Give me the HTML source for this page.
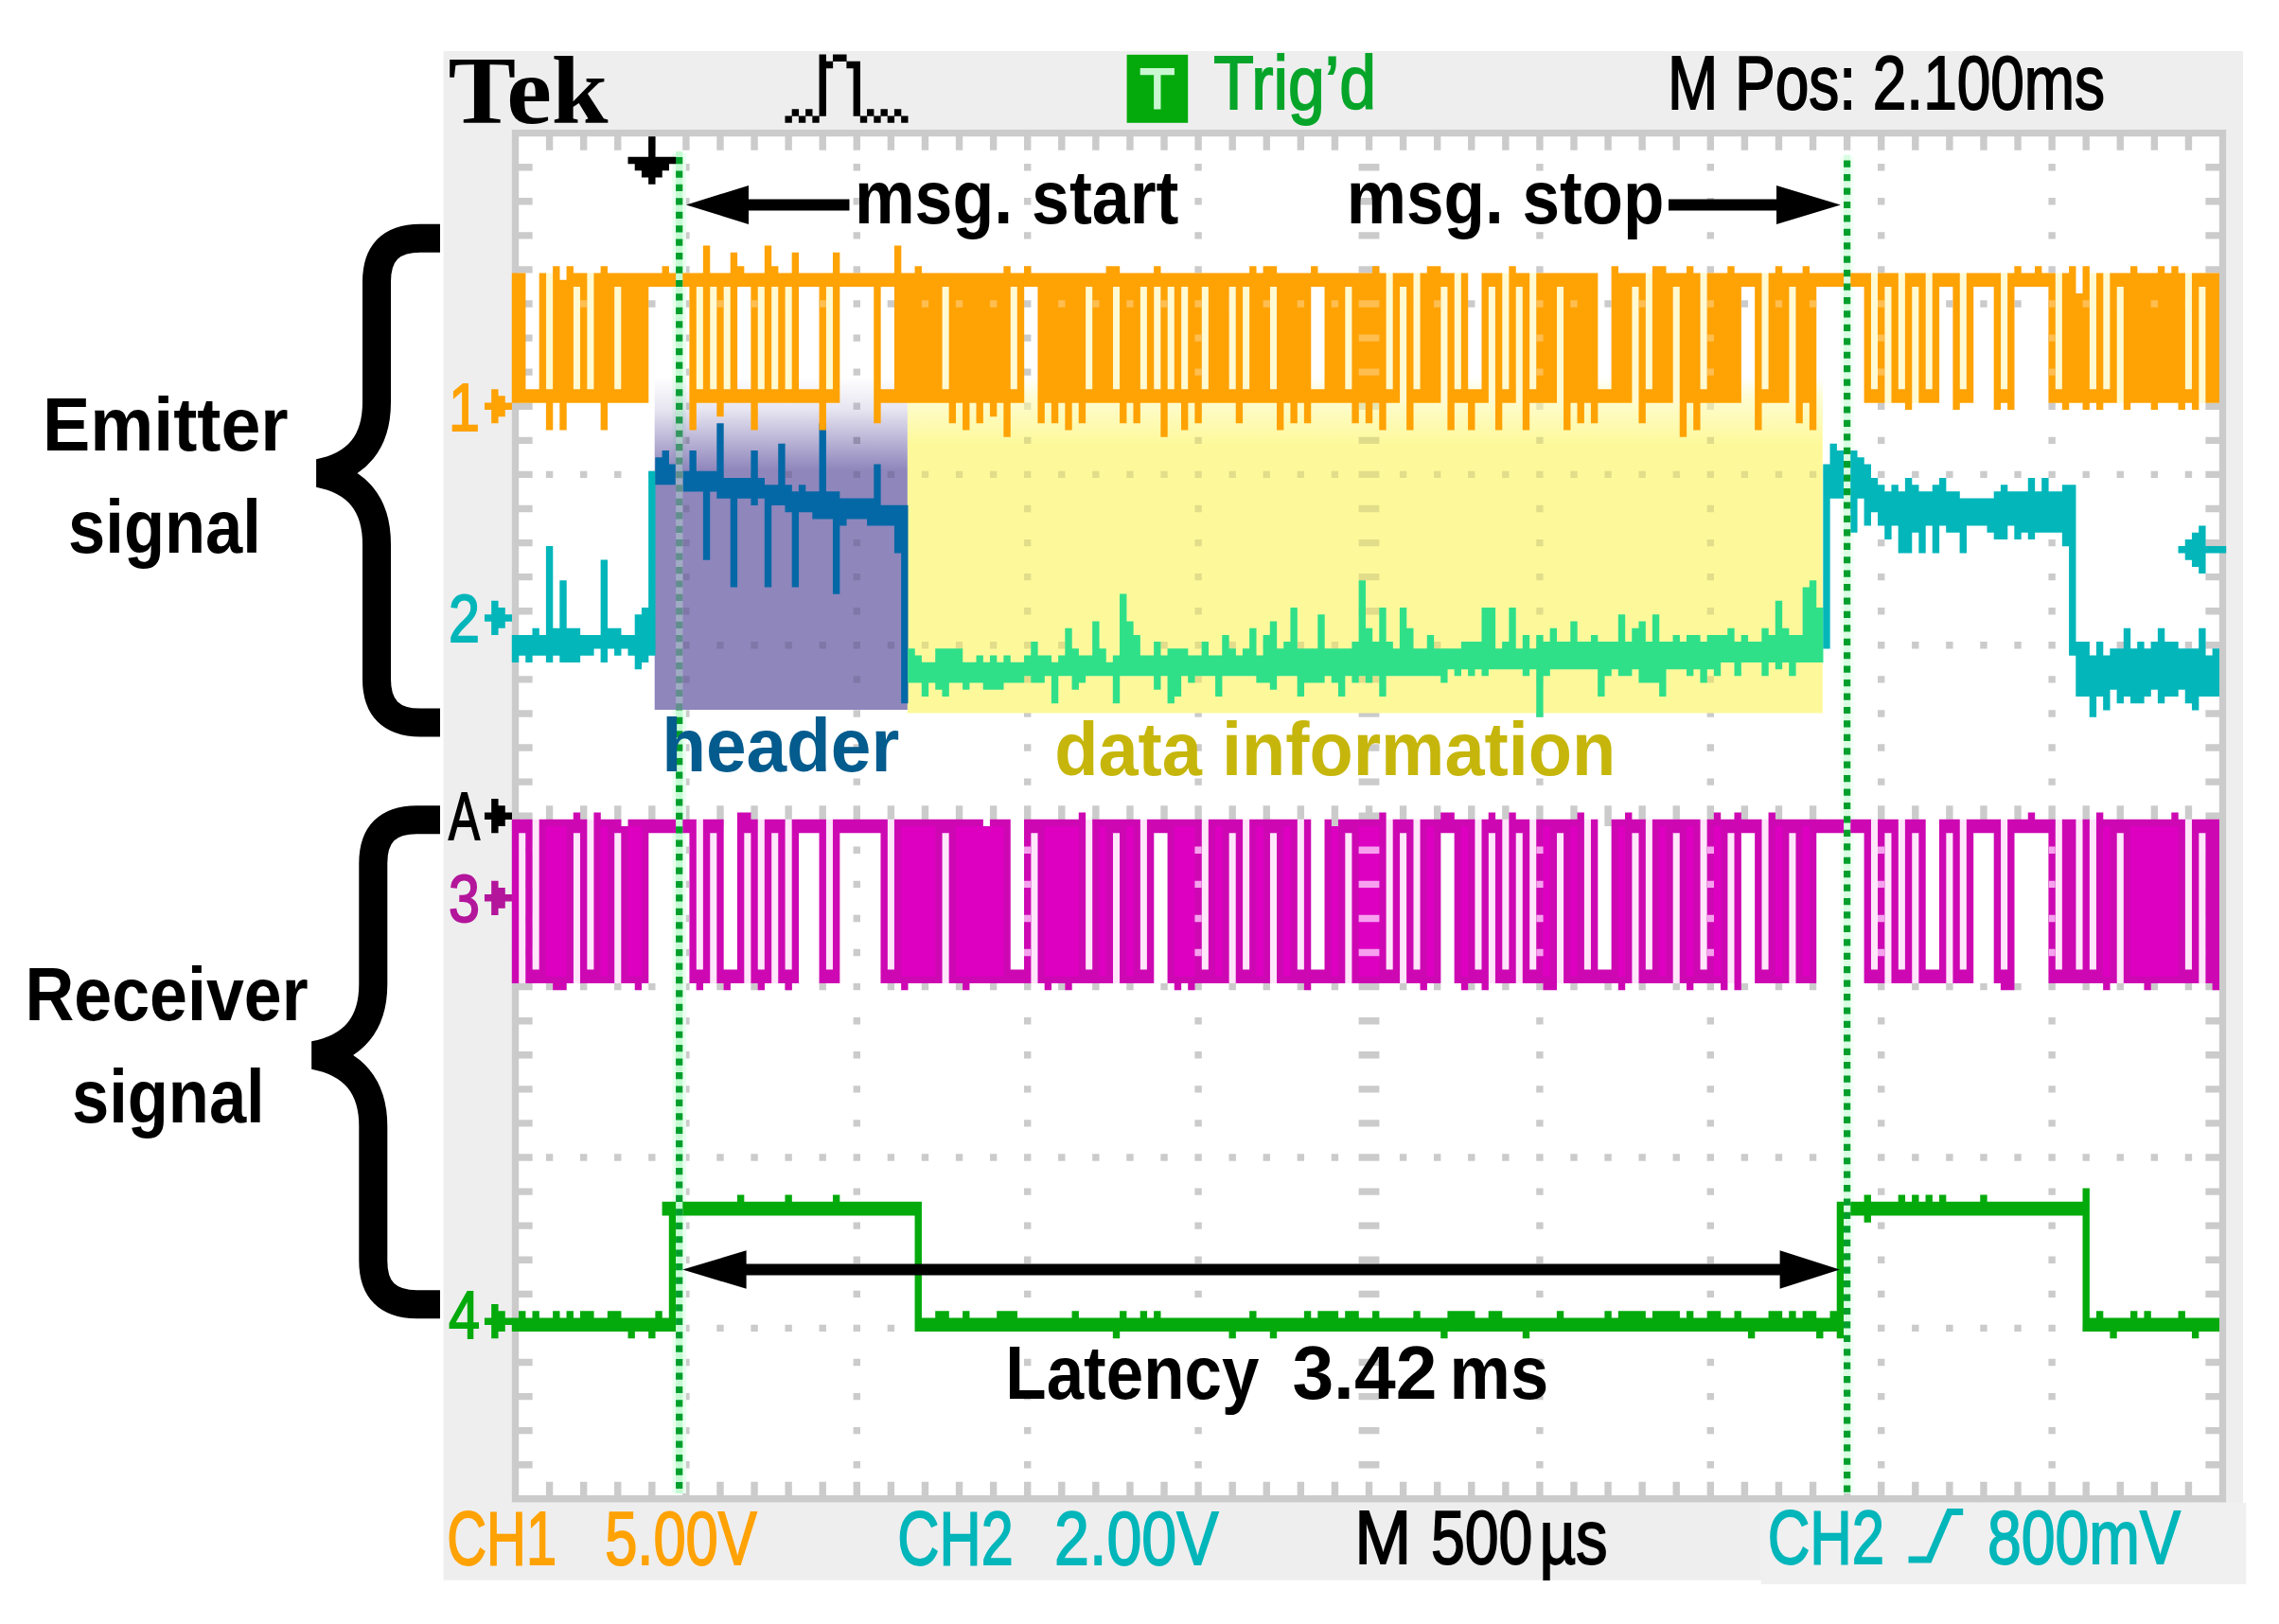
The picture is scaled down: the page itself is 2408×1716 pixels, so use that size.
<!DOCTYPE html>
<html lang="en">
<head>
<meta charset="utf-8">
<title>Oscilloscope capture: emitter and receiver signals</title>
<style>
html,body{margin:0;padding:0;background:#fff;}
body{width:2408px;height:1716px;overflow:hidden;}
svg{display:block;}
</style>
</head>
<body>
<svg width="2408" height="1716" viewBox="0 0 2408 1716">
<defs>
<linearGradient id="gp" x1="0" y1="0" x2="0" y2="1">
<stop offset="0" stop-color="#8f86bc" stop-opacity="0"/>
<stop offset="0.10" stop-color="#8f86bc" stop-opacity="0.22"/>
<stop offset="0.28" stop-color="#8f86bc" stop-opacity="1"/>
<stop offset="1" stop-color="#8f86bc" stop-opacity="1"/>
</linearGradient>
<linearGradient id="gy" x1="0" y1="0" x2="0" y2="1">
<stop offset="0" stop-color="#fdf99b" stop-opacity="0"/>
<stop offset="0.06" stop-color="#fdf99b" stop-opacity="0.45"/>
<stop offset="0.20" stop-color="#fdf99b" stop-opacity="1"/>
<stop offset="1" stop-color="#fdf99b" stop-opacity="1"/>
</linearGradient>
</defs>
<rect width="2408" height="1716" fill="#fff"/>
<rect x="468.6" y="53.9" width="1901.4" height="1615.8" fill="#eeeeee"/>
<rect x="1860.7" y="1588" width="512.5" height="86" fill="#f0f0f0"/>
<rect x="540.9" y="137" width="1811.22" height="1450.42" fill="#fff"/>
<defs><path id="grat" d="M540.82 136.92h7.38v1450.58h-7.38zM548.04 136.92h7.38v7.38h-7.38zM548.04 173h7.38v7.38h-7.38zM548.04 209.08h7.38v7.38h-7.38zM548.04 245.16h7.38v7.38h-7.38zM548.04 281.24h7.38v7.38h-7.38zM548.04 317.32h7.38v7.38h-7.38zM548.04 353.4h7.38v7.38h-7.38zM548.04 389.48h7.38v7.38h-7.38zM548.04 425.56h7.38v7.38h-7.38zM548.04 461.64h7.38v7.38h-7.38zM548.04 497.72h7.38v7.38h-7.38zM548.04 533.8h7.38v7.38h-7.38zM548.04 569.88h7.38v7.38h-7.38zM548.04 605.96h7.38v7.38h-7.38zM548.04 642.04h7.38v7.38h-7.38zM548.04 678.12h7.38v7.38h-7.38zM548.04 714.2h7.38v7.38h-7.38zM548.04 750.28h7.38v7.38h-7.38zM548.04 786.36h7.38v7.38h-7.38zM548.04 822.44h7.38v7.38h-7.38zM548.04 858.52h7.38v7.38h-7.38zM548.04 894.6h7.38v7.38h-7.38zM548.04 930.68h7.38v7.38h-7.38zM548.04 966.76h7.38v7.38h-7.38zM548.04 1002.84h7.38v7.38h-7.38zM548.04 1038.92h7.38v7.38h-7.38zM548.04 1075h7.38v7.38h-7.38zM548.04 1111.08h7.38v7.38h-7.38zM548.04 1147.16h7.38v7.38h-7.38zM548.04 1183.24h7.38v7.38h-7.38zM548.04 1219.32h7.38v7.38h-7.38zM548.04 1255.4h7.38v7.38h-7.38zM548.04 1291.48h7.38v7.38h-7.38zM548.04 1327.56h7.38v7.38h-7.38zM548.04 1363.64h7.38v7.38h-7.38zM548.04 1399.72h7.38v7.38h-7.38zM548.04 1435.8h7.38v7.38h-7.38zM548.04 1471.88h7.38v7.38h-7.38zM548.04 1507.96h7.38v7.38h-7.38zM548.04 1544.04h7.38v7.38h-7.38zM548.04 1580.12h7.38v7.38h-7.38zM555.25 136.92h7.38v7.38h-7.38zM555.25 173h7.38v7.38h-7.38zM555.25 209.08h7.38v7.38h-7.38zM555.25 245.16h7.38v7.38h-7.38zM555.25 281.24h7.38v7.38h-7.38zM555.25 317.32h7.38v7.38h-7.38zM555.25 353.4h7.38v7.38h-7.38zM555.25 389.48h7.38v7.38h-7.38zM555.25 425.56h7.38v7.38h-7.38zM555.25 461.64h7.38v7.38h-7.38zM555.25 497.72h7.38v7.38h-7.38zM555.25 533.8h7.38v7.38h-7.38zM555.25 569.88h7.38v7.38h-7.38zM555.25 605.96h7.38v7.38h-7.38zM555.25 642.04h7.38v7.38h-7.38zM555.25 678.12h7.38v7.38h-7.38zM555.25 714.2h7.38v7.38h-7.38zM555.25 750.28h7.38v7.38h-7.38zM555.25 786.36h7.38v7.38h-7.38zM555.25 822.44h7.38v7.38h-7.38zM555.25 858.52h7.38v7.38h-7.38zM555.25 894.6h7.38v7.38h-7.38zM555.25 930.68h7.38v7.38h-7.38zM555.25 966.76h7.38v7.38h-7.38zM555.25 1002.84h7.38v7.38h-7.38zM555.25 1038.92h7.38v7.38h-7.38zM555.25 1075h7.38v7.38h-7.38zM555.25 1111.08h7.38v7.38h-7.38zM555.25 1147.16h7.38v7.38h-7.38zM555.25 1183.24h7.38v7.38h-7.38zM555.25 1219.32h7.38v7.38h-7.38zM555.25 1255.4h7.38v7.38h-7.38zM555.25 1291.48h7.38v7.38h-7.38zM555.25 1327.56h7.38v7.38h-7.38zM555.25 1363.64h7.38v7.38h-7.38zM555.25 1399.72h7.38v7.38h-7.38zM555.25 1435.8h7.38v7.38h-7.38zM555.25 1471.88h7.38v7.38h-7.38zM555.25 1507.96h7.38v7.38h-7.38zM555.25 1544.04h7.38v7.38h-7.38zM555.25 1580.12h7.38v7.38h-7.38zM562.47 136.92h7.38v7.38h-7.38zM562.47 1580.12h7.38v7.38h-7.38zM569.68 136.92h7.38v7.38h-7.38zM569.68 1580.12h7.38v7.38h-7.38zM576.9 136.92h7.38v21.81h-7.38zM576.9 317.32h7.38v7.38h-7.38zM576.9 497.72h7.38v7.38h-7.38zM576.9 678.12h7.38v7.38h-7.38zM576.9 851.3h7.38v21.81h-7.38zM576.9 1038.92h7.38v7.38h-7.38zM576.9 1219.32h7.38v7.38h-7.38zM576.9 1399.72h7.38v7.38h-7.38zM576.9 1565.69h7.38v21.81h-7.38zM584.12 136.92h7.38v7.38h-7.38zM584.12 1580.12h7.38v7.38h-7.38zM591.33 136.92h7.38v7.38h-7.38zM591.33 1580.12h7.38v7.38h-7.38zM598.55 136.92h7.38v7.38h-7.38zM598.55 1580.12h7.38v7.38h-7.38zM605.76 136.92h7.38v7.38h-7.38zM605.76 1580.12h7.38v7.38h-7.38zM612.98 136.92h7.38v21.81h-7.38zM612.98 317.32h7.38v7.38h-7.38zM612.98 497.72h7.38v7.38h-7.38zM612.98 678.12h7.38v7.38h-7.38zM612.98 851.3h7.38v21.81h-7.38zM612.98 1038.92h7.38v7.38h-7.38zM612.98 1219.32h7.38v7.38h-7.38zM612.98 1399.72h7.38v7.38h-7.38zM612.98 1565.69h7.38v21.81h-7.38zM620.2 136.92h7.38v7.38h-7.38zM620.2 1580.12h7.38v7.38h-7.38zM627.41 136.92h7.38v7.38h-7.38zM627.41 1580.12h7.38v7.38h-7.38zM634.63 136.92h7.38v7.38h-7.38zM634.63 1580.12h7.38v7.38h-7.38zM641.84 136.92h7.38v7.38h-7.38zM641.84 1580.12h7.38v7.38h-7.38zM649.06 136.92h7.38v21.81h-7.38zM649.06 317.32h7.38v7.38h-7.38zM649.06 497.72h7.38v7.38h-7.38zM649.06 678.12h7.38v7.38h-7.38zM649.06 851.3h7.38v21.81h-7.38zM649.06 1038.92h7.38v7.38h-7.38zM649.06 1219.32h7.38v7.38h-7.38zM649.06 1399.72h7.38v7.38h-7.38zM649.06 1565.69h7.38v21.81h-7.38zM656.28 136.92h7.38v7.38h-7.38zM656.28 1580.12h7.38v7.38h-7.38zM663.49 136.92h7.38v7.38h-7.38zM663.49 1580.12h7.38v7.38h-7.38zM670.71 136.92h7.38v7.38h-7.38zM670.71 1580.12h7.38v7.38h-7.38zM677.92 136.92h7.38v7.38h-7.38zM677.92 1580.12h7.38v7.38h-7.38zM685.14 136.92h7.38v21.81h-7.38zM685.14 317.32h7.38v7.38h-7.38zM685.14 497.72h7.38v7.38h-7.38zM685.14 678.12h7.38v7.38h-7.38zM685.14 851.3h7.38v21.81h-7.38zM685.14 1038.92h7.38v7.38h-7.38zM685.14 1219.32h7.38v7.38h-7.38zM685.14 1399.72h7.38v7.38h-7.38zM685.14 1565.69h7.38v21.81h-7.38zM692.36 136.92h7.38v7.38h-7.38zM692.36 1580.12h7.38v7.38h-7.38zM699.57 136.92h7.38v7.38h-7.38zM699.57 1580.12h7.38v7.38h-7.38zM706.79 136.92h7.38v7.38h-7.38zM706.79 1580.12h7.38v7.38h-7.38zM714 136.92h7.38v7.38h-7.38zM714 1580.12h7.38v7.38h-7.38zM721.22 136.92h7.38v21.81h-7.38zM721.22 173h7.38v7.38h-7.38zM721.22 209.08h7.38v7.38h-7.38zM721.22 245.16h7.38v7.38h-7.38zM721.22 281.24h7.38v7.38h-7.38zM721.22 317.32h7.38v7.38h-7.38zM721.22 353.4h7.38v7.38h-7.38zM721.22 389.48h7.38v7.38h-7.38zM721.22 425.56h7.38v7.38h-7.38zM721.22 461.64h7.38v7.38h-7.38zM721.22 497.72h7.38v7.38h-7.38zM721.22 533.8h7.38v7.38h-7.38zM721.22 569.88h7.38v7.38h-7.38zM721.22 605.96h7.38v7.38h-7.38zM721.22 642.04h7.38v7.38h-7.38zM721.22 678.12h7.38v7.38h-7.38zM721.22 714.2h7.38v7.38h-7.38zM721.22 750.28h7.38v7.38h-7.38zM721.22 786.36h7.38v7.38h-7.38zM721.22 822.44h7.38v7.38h-7.38zM721.22 851.3h7.38v21.81h-7.38zM721.22 894.6h7.38v7.38h-7.38zM721.22 930.68h7.38v7.38h-7.38zM721.22 966.76h7.38v7.38h-7.38zM721.22 1002.84h7.38v7.38h-7.38zM721.22 1038.92h7.38v7.38h-7.38zM721.22 1075h7.38v7.38h-7.38zM721.22 1111.08h7.38v7.38h-7.38zM721.22 1147.16h7.38v7.38h-7.38zM721.22 1183.24h7.38v7.38h-7.38zM721.22 1219.32h7.38v7.38h-7.38zM721.22 1255.4h7.38v7.38h-7.38zM721.22 1291.48h7.38v7.38h-7.38zM721.22 1327.56h7.38v7.38h-7.38zM721.22 1363.64h7.38v7.38h-7.38zM721.22 1399.72h7.38v7.38h-7.38zM721.22 1435.8h7.38v7.38h-7.38zM721.22 1471.88h7.38v7.38h-7.38zM721.22 1507.96h7.38v7.38h-7.38zM721.22 1544.04h7.38v7.38h-7.38zM721.22 1565.69h7.38v21.81h-7.38zM728.44 136.92h7.38v7.38h-7.38zM728.44 1580.12h7.38v7.38h-7.38zM735.65 136.92h7.38v7.38h-7.38zM735.65 1580.12h7.38v7.38h-7.38zM742.87 136.92h7.38v7.38h-7.38zM742.87 1580.12h7.38v7.38h-7.38zM750.08 136.92h7.38v7.38h-7.38zM750.08 1580.12h7.38v7.38h-7.38zM757.3 136.92h7.38v21.81h-7.38zM757.3 317.32h7.38v7.38h-7.38zM757.3 497.72h7.38v7.38h-7.38zM757.3 678.12h7.38v7.38h-7.38zM757.3 851.3h7.38v21.81h-7.38zM757.3 1038.92h7.38v7.38h-7.38zM757.3 1219.32h7.38v7.38h-7.38zM757.3 1399.72h7.38v7.38h-7.38zM757.3 1565.69h7.38v21.81h-7.38zM764.52 136.92h7.38v7.38h-7.38zM764.52 1580.12h7.38v7.38h-7.38zM771.73 136.92h7.38v7.38h-7.38zM771.73 1580.12h7.38v7.38h-7.38zM778.95 136.92h7.38v7.38h-7.38zM778.95 1580.12h7.38v7.38h-7.38zM786.16 136.92h7.38v7.38h-7.38zM786.16 1580.12h7.38v7.38h-7.38zM793.38 136.92h7.38v21.81h-7.38zM793.38 317.32h7.38v7.38h-7.38zM793.38 497.72h7.38v7.38h-7.38zM793.38 678.12h7.38v7.38h-7.38zM793.38 851.3h7.38v21.81h-7.38zM793.38 1038.92h7.38v7.38h-7.38zM793.38 1219.32h7.38v7.38h-7.38zM793.38 1399.72h7.38v7.38h-7.38zM793.38 1565.69h7.38v21.81h-7.38zM800.6 136.92h7.38v7.38h-7.38zM800.6 1580.12h7.38v7.38h-7.38zM807.81 136.92h7.38v7.38h-7.38zM807.81 1580.12h7.38v7.38h-7.38zM815.03 136.92h7.38v7.38h-7.38zM815.03 1580.12h7.38v7.38h-7.38zM822.24 136.92h7.38v7.38h-7.38zM822.24 1580.12h7.38v7.38h-7.38zM829.46 136.92h7.38v21.81h-7.38zM829.46 317.32h7.38v7.38h-7.38zM829.46 497.72h7.38v7.38h-7.38zM829.46 678.12h7.38v7.38h-7.38zM829.46 851.3h7.38v21.81h-7.38zM829.46 1038.92h7.38v7.38h-7.38zM829.46 1219.32h7.38v7.38h-7.38zM829.46 1399.72h7.38v7.38h-7.38zM829.46 1565.69h7.38v21.81h-7.38zM836.68 136.92h7.38v7.38h-7.38zM836.68 1580.12h7.38v7.38h-7.38zM843.89 136.92h7.38v7.38h-7.38zM843.89 1580.12h7.38v7.38h-7.38zM851.11 136.92h7.38v7.38h-7.38zM851.11 1580.12h7.38v7.38h-7.38zM858.32 136.92h7.38v7.38h-7.38zM858.32 1580.12h7.38v7.38h-7.38zM865.54 136.92h7.38v21.81h-7.38zM865.54 317.32h7.38v7.38h-7.38zM865.54 497.72h7.38v7.38h-7.38zM865.54 678.12h7.38v7.38h-7.38zM865.54 851.3h7.38v21.81h-7.38zM865.54 1038.92h7.38v7.38h-7.38zM865.54 1219.32h7.38v7.38h-7.38zM865.54 1399.72h7.38v7.38h-7.38zM865.54 1565.69h7.38v21.81h-7.38zM872.76 136.92h7.38v7.38h-7.38zM872.76 1580.12h7.38v7.38h-7.38zM879.97 136.92h7.38v7.38h-7.38zM879.97 1580.12h7.38v7.38h-7.38zM887.19 136.92h7.38v7.38h-7.38zM887.19 1580.12h7.38v7.38h-7.38zM894.4 136.92h7.38v7.38h-7.38zM894.4 1580.12h7.38v7.38h-7.38zM901.62 136.92h7.38v21.81h-7.38zM901.62 173h7.38v7.38h-7.38zM901.62 209.08h7.38v7.38h-7.38zM901.62 245.16h7.38v7.38h-7.38zM901.62 281.24h7.38v7.38h-7.38zM901.62 317.32h7.38v7.38h-7.38zM901.62 353.4h7.38v7.38h-7.38zM901.62 389.48h7.38v7.38h-7.38zM901.62 425.56h7.38v7.38h-7.38zM901.62 461.64h7.38v7.38h-7.38zM901.62 497.72h7.38v7.38h-7.38zM901.62 533.8h7.38v7.38h-7.38zM901.62 569.88h7.38v7.38h-7.38zM901.62 605.96h7.38v7.38h-7.38zM901.62 642.04h7.38v7.38h-7.38zM901.62 678.12h7.38v7.38h-7.38zM901.62 714.2h7.38v7.38h-7.38zM901.62 750.28h7.38v7.38h-7.38zM901.62 786.36h7.38v7.38h-7.38zM901.62 822.44h7.38v7.38h-7.38zM901.62 851.3h7.38v21.81h-7.38zM901.62 894.6h7.38v7.38h-7.38zM901.62 930.68h7.38v7.38h-7.38zM901.62 966.76h7.38v7.38h-7.38zM901.62 1002.84h7.38v7.38h-7.38zM901.62 1038.92h7.38v7.38h-7.38zM901.62 1075h7.38v7.38h-7.38zM901.62 1111.08h7.38v7.38h-7.38zM901.62 1147.16h7.38v7.38h-7.38zM901.62 1183.24h7.38v7.38h-7.38zM901.62 1219.32h7.38v7.38h-7.38zM901.62 1255.4h7.38v7.38h-7.38zM901.62 1291.48h7.38v7.38h-7.38zM901.62 1327.56h7.38v7.38h-7.38zM901.62 1363.64h7.38v7.38h-7.38zM901.62 1399.72h7.38v7.38h-7.38zM901.62 1435.8h7.38v7.38h-7.38zM901.62 1471.88h7.38v7.38h-7.38zM901.62 1507.96h7.38v7.38h-7.38zM901.62 1544.04h7.38v7.38h-7.38zM901.62 1565.69h7.38v21.81h-7.38zM908.84 136.92h7.38v7.38h-7.38zM908.84 1580.12h7.38v7.38h-7.38zM916.05 136.92h7.38v7.38h-7.38zM916.05 1580.12h7.38v7.38h-7.38zM923.27 136.92h7.38v7.38h-7.38zM923.27 1580.12h7.38v7.38h-7.38zM930.48 136.92h7.38v7.38h-7.38zM930.48 1580.12h7.38v7.38h-7.38zM937.7 136.92h7.38v21.81h-7.38zM937.7 317.32h7.38v7.38h-7.38zM937.7 497.72h7.38v7.38h-7.38zM937.7 678.12h7.38v7.38h-7.38zM937.7 851.3h7.38v21.81h-7.38zM937.7 1038.92h7.38v7.38h-7.38zM937.7 1219.32h7.38v7.38h-7.38zM937.7 1399.72h7.38v7.38h-7.38zM937.7 1565.69h7.38v21.81h-7.38zM944.92 136.92h7.38v7.38h-7.38zM944.92 1580.12h7.38v7.38h-7.38zM952.13 136.92h7.38v7.38h-7.38zM952.13 1580.12h7.38v7.38h-7.38zM959.35 136.92h7.38v7.38h-7.38zM959.35 1580.12h7.38v7.38h-7.38zM966.56 136.92h7.38v7.38h-7.38zM966.56 1580.12h7.38v7.38h-7.38zM973.78 136.92h7.38v21.81h-7.38zM973.78 317.32h7.38v7.38h-7.38zM973.78 497.72h7.38v7.38h-7.38zM973.78 678.12h7.38v7.38h-7.38zM973.78 851.3h7.38v21.81h-7.38zM973.78 1038.92h7.38v7.38h-7.38zM973.78 1219.32h7.38v7.38h-7.38zM973.78 1399.72h7.38v7.38h-7.38zM973.78 1565.69h7.38v21.81h-7.38zM981 136.92h7.38v7.38h-7.38zM981 1580.12h7.38v7.38h-7.38zM988.21 136.92h7.38v7.38h-7.38zM988.21 1580.12h7.38v7.38h-7.38zM995.43 136.92h7.38v7.38h-7.38zM995.43 1580.12h7.38v7.38h-7.38zM1002.64 136.92h7.38v7.38h-7.38zM1002.64 1580.12h7.38v7.38h-7.38zM1009.86 136.92h7.38v21.81h-7.38zM1009.86 317.32h7.38v7.38h-7.38zM1009.86 497.72h7.38v7.38h-7.38zM1009.86 678.12h7.38v7.38h-7.38zM1009.86 851.3h7.38v21.81h-7.38zM1009.86 1038.92h7.38v7.38h-7.38zM1009.86 1219.32h7.38v7.38h-7.38zM1009.86 1399.72h7.38v7.38h-7.38zM1009.86 1565.69h7.38v21.81h-7.38zM1017.08 136.92h7.38v7.38h-7.38zM1017.08 1580.12h7.38v7.38h-7.38zM1024.29 136.92h7.38v7.38h-7.38zM1024.29 1580.12h7.38v7.38h-7.38zM1031.51 136.92h7.38v7.38h-7.38zM1031.51 1580.12h7.38v7.38h-7.38zM1038.72 136.92h7.38v7.38h-7.38zM1038.72 1580.12h7.38v7.38h-7.38zM1045.94 136.92h7.38v21.81h-7.38zM1045.94 317.32h7.38v7.38h-7.38zM1045.94 497.72h7.38v7.38h-7.38zM1045.94 678.12h7.38v7.38h-7.38zM1045.94 851.3h7.38v21.81h-7.38zM1045.94 1038.92h7.38v7.38h-7.38zM1045.94 1219.32h7.38v7.38h-7.38zM1045.94 1399.72h7.38v7.38h-7.38zM1045.94 1565.69h7.38v21.81h-7.38zM1053.16 136.92h7.38v7.38h-7.38zM1053.16 1580.12h7.38v7.38h-7.38zM1060.37 136.92h7.38v7.38h-7.38zM1060.37 1580.12h7.38v7.38h-7.38zM1067.59 136.92h7.38v7.38h-7.38zM1067.59 1580.12h7.38v7.38h-7.38zM1074.8 136.92h7.38v7.38h-7.38zM1074.8 1580.12h7.38v7.38h-7.38zM1082.02 136.92h7.38v21.81h-7.38zM1082.02 173h7.38v7.38h-7.38zM1082.02 209.08h7.38v7.38h-7.38zM1082.02 245.16h7.38v7.38h-7.38zM1082.02 281.24h7.38v7.38h-7.38zM1082.02 317.32h7.38v7.38h-7.38zM1082.02 353.4h7.38v7.38h-7.38zM1082.02 389.48h7.38v7.38h-7.38zM1082.02 425.56h7.38v7.38h-7.38zM1082.02 461.64h7.38v7.38h-7.38zM1082.02 497.72h7.38v7.38h-7.38zM1082.02 533.8h7.38v7.38h-7.38zM1082.02 569.88h7.38v7.38h-7.38zM1082.02 605.96h7.38v7.38h-7.38zM1082.02 642.04h7.38v7.38h-7.38zM1082.02 678.12h7.38v7.38h-7.38zM1082.02 714.2h7.38v7.38h-7.38zM1082.02 750.28h7.38v7.38h-7.38zM1082.02 786.36h7.38v7.38h-7.38zM1082.02 822.44h7.38v7.38h-7.38zM1082.02 851.3h7.38v21.81h-7.38zM1082.02 894.6h7.38v7.38h-7.38zM1082.02 930.68h7.38v7.38h-7.38zM1082.02 966.76h7.38v7.38h-7.38zM1082.02 1002.84h7.38v7.38h-7.38zM1082.02 1038.92h7.38v7.38h-7.38zM1082.02 1075h7.38v7.38h-7.38zM1082.02 1111.08h7.38v7.38h-7.38zM1082.02 1147.16h7.38v7.38h-7.38zM1082.02 1183.24h7.38v7.38h-7.38zM1082.02 1219.32h7.38v7.38h-7.38zM1082.02 1255.4h7.38v7.38h-7.38zM1082.02 1291.48h7.38v7.38h-7.38zM1082.02 1327.56h7.38v7.38h-7.38zM1082.02 1363.64h7.38v7.38h-7.38zM1082.02 1399.72h7.38v7.38h-7.38zM1082.02 1435.8h7.38v7.38h-7.38zM1082.02 1471.88h7.38v7.38h-7.38zM1082.02 1507.96h7.38v7.38h-7.38zM1082.02 1544.04h7.38v7.38h-7.38zM1082.02 1565.69h7.38v21.81h-7.38zM1089.24 136.92h7.38v7.38h-7.38zM1089.24 1580.12h7.38v7.38h-7.38zM1096.45 136.92h7.38v7.38h-7.38zM1096.45 1580.12h7.38v7.38h-7.38zM1103.67 136.92h7.38v7.38h-7.38zM1103.67 1580.12h7.38v7.38h-7.38zM1110.88 136.92h7.38v7.38h-7.38zM1110.88 1580.12h7.38v7.38h-7.38zM1118.1 136.92h7.38v21.81h-7.38zM1118.1 317.32h7.38v7.38h-7.38zM1118.1 497.72h7.38v7.38h-7.38zM1118.1 678.12h7.38v7.38h-7.38zM1118.1 851.3h7.38v21.81h-7.38zM1118.1 1038.92h7.38v7.38h-7.38zM1118.1 1219.32h7.38v7.38h-7.38zM1118.1 1399.72h7.38v7.38h-7.38zM1118.1 1565.69h7.38v21.81h-7.38zM1125.32 136.92h7.38v7.38h-7.38zM1125.32 1580.12h7.38v7.38h-7.38zM1132.53 136.92h7.38v7.38h-7.38zM1132.53 1580.12h7.38v7.38h-7.38zM1139.75 136.92h7.38v7.38h-7.38zM1139.75 1580.12h7.38v7.38h-7.38zM1146.96 136.92h7.38v7.38h-7.38zM1146.96 1580.12h7.38v7.38h-7.38zM1154.18 136.92h7.38v21.81h-7.38zM1154.18 317.32h7.38v7.38h-7.38zM1154.18 497.72h7.38v7.38h-7.38zM1154.18 678.12h7.38v7.38h-7.38zM1154.18 851.3h7.38v21.81h-7.38zM1154.18 1038.92h7.38v7.38h-7.38zM1154.18 1219.32h7.38v7.38h-7.38zM1154.18 1399.72h7.38v7.38h-7.38zM1154.18 1565.69h7.38v21.81h-7.38zM1161.4 136.92h7.38v7.38h-7.38zM1161.4 1580.12h7.38v7.38h-7.38zM1168.61 136.92h7.38v7.38h-7.38zM1168.61 1580.12h7.38v7.38h-7.38zM1175.83 136.92h7.38v7.38h-7.38zM1175.83 1580.12h7.38v7.38h-7.38zM1183.04 136.92h7.38v7.38h-7.38zM1183.04 1580.12h7.38v7.38h-7.38zM1190.26 136.92h7.38v21.81h-7.38zM1190.26 317.32h7.38v7.38h-7.38zM1190.26 497.72h7.38v7.38h-7.38zM1190.26 678.12h7.38v7.38h-7.38zM1190.26 851.3h7.38v21.81h-7.38zM1190.26 1038.92h7.38v7.38h-7.38zM1190.26 1219.32h7.38v7.38h-7.38zM1190.26 1399.72h7.38v7.38h-7.38zM1190.26 1565.69h7.38v21.81h-7.38zM1197.48 136.92h7.38v7.38h-7.38zM1197.48 1580.12h7.38v7.38h-7.38zM1204.69 136.92h7.38v7.38h-7.38zM1204.69 1580.12h7.38v7.38h-7.38zM1211.91 136.92h7.38v7.38h-7.38zM1211.91 1580.12h7.38v7.38h-7.38zM1219.12 136.92h7.38v7.38h-7.38zM1219.12 1580.12h7.38v7.38h-7.38zM1226.34 136.92h7.38v21.81h-7.38zM1226.34 317.32h7.38v7.38h-7.38zM1226.34 497.72h7.38v7.38h-7.38zM1226.34 678.12h7.38v7.38h-7.38zM1226.34 851.3h7.38v21.81h-7.38zM1226.34 1038.92h7.38v7.38h-7.38zM1226.34 1219.32h7.38v7.38h-7.38zM1226.34 1399.72h7.38v7.38h-7.38zM1226.34 1565.69h7.38v21.81h-7.38zM1233.56 136.92h7.38v7.38h-7.38zM1233.56 1580.12h7.38v7.38h-7.38zM1240.77 136.92h7.38v7.38h-7.38zM1240.77 1580.12h7.38v7.38h-7.38zM1247.99 136.92h7.38v7.38h-7.38zM1247.99 1580.12h7.38v7.38h-7.38zM1255.2 136.92h7.38v7.38h-7.38zM1255.2 1580.12h7.38v7.38h-7.38zM1262.42 136.92h7.38v21.81h-7.38zM1262.42 173h7.38v7.38h-7.38zM1262.42 209.08h7.38v7.38h-7.38zM1262.42 245.16h7.38v7.38h-7.38zM1262.42 281.24h7.38v7.38h-7.38zM1262.42 317.32h7.38v7.38h-7.38zM1262.42 353.4h7.38v7.38h-7.38zM1262.42 389.48h7.38v7.38h-7.38zM1262.42 425.56h7.38v7.38h-7.38zM1262.42 461.64h7.38v7.38h-7.38zM1262.42 497.72h7.38v7.38h-7.38zM1262.42 533.8h7.38v7.38h-7.38zM1262.42 569.88h7.38v7.38h-7.38zM1262.42 605.96h7.38v7.38h-7.38zM1262.42 642.04h7.38v7.38h-7.38zM1262.42 678.12h7.38v7.38h-7.38zM1262.42 714.2h7.38v7.38h-7.38zM1262.42 750.28h7.38v7.38h-7.38zM1262.42 786.36h7.38v7.38h-7.38zM1262.42 822.44h7.38v7.38h-7.38zM1262.42 851.3h7.38v21.81h-7.38zM1262.42 894.6h7.38v7.38h-7.38zM1262.42 930.68h7.38v7.38h-7.38zM1262.42 966.76h7.38v7.38h-7.38zM1262.42 1002.84h7.38v7.38h-7.38zM1262.42 1038.92h7.38v7.38h-7.38zM1262.42 1075h7.38v7.38h-7.38zM1262.42 1111.08h7.38v7.38h-7.38zM1262.42 1147.16h7.38v7.38h-7.38zM1262.42 1183.24h7.38v7.38h-7.38zM1262.42 1219.32h7.38v7.38h-7.38zM1262.42 1255.4h7.38v7.38h-7.38zM1262.42 1291.48h7.38v7.38h-7.38zM1262.42 1327.56h7.38v7.38h-7.38zM1262.42 1363.64h7.38v7.38h-7.38zM1262.42 1399.72h7.38v7.38h-7.38zM1262.42 1435.8h7.38v7.38h-7.38zM1262.42 1471.88h7.38v7.38h-7.38zM1262.42 1507.96h7.38v7.38h-7.38zM1262.42 1544.04h7.38v7.38h-7.38zM1262.42 1565.69h7.38v21.81h-7.38zM1269.64 136.92h7.38v7.38h-7.38zM1269.64 1580.12h7.38v7.38h-7.38zM1276.85 136.92h7.38v7.38h-7.38zM1276.85 1580.12h7.38v7.38h-7.38zM1284.07 136.92h7.38v7.38h-7.38zM1284.07 1580.12h7.38v7.38h-7.38zM1291.28 136.92h7.38v7.38h-7.38zM1291.28 1580.12h7.38v7.38h-7.38zM1298.5 136.92h7.38v21.81h-7.38zM1298.5 317.32h7.38v7.38h-7.38zM1298.5 497.72h7.38v7.38h-7.38zM1298.5 678.12h7.38v7.38h-7.38zM1298.5 851.3h7.38v21.81h-7.38zM1298.5 1038.92h7.38v7.38h-7.38zM1298.5 1219.32h7.38v7.38h-7.38zM1298.5 1399.72h7.38v7.38h-7.38zM1298.5 1565.69h7.38v21.81h-7.38zM1305.72 136.92h7.38v7.38h-7.38zM1305.72 1580.12h7.38v7.38h-7.38zM1312.93 136.92h7.38v7.38h-7.38zM1312.93 1580.12h7.38v7.38h-7.38zM1320.15 136.92h7.38v7.38h-7.38zM1320.15 1580.12h7.38v7.38h-7.38zM1327.36 136.92h7.38v7.38h-7.38zM1327.36 1580.12h7.38v7.38h-7.38zM1334.58 136.92h7.38v21.81h-7.38zM1334.58 317.32h7.38v7.38h-7.38zM1334.58 497.72h7.38v7.38h-7.38zM1334.58 678.12h7.38v7.38h-7.38zM1334.58 851.3h7.38v21.81h-7.38zM1334.58 1038.92h7.38v7.38h-7.38zM1334.58 1219.32h7.38v7.38h-7.38zM1334.58 1399.72h7.38v7.38h-7.38zM1334.58 1565.69h7.38v21.81h-7.38zM1341.8 136.92h7.38v7.38h-7.38zM1341.8 1580.12h7.38v7.38h-7.38zM1349.01 136.92h7.38v7.38h-7.38zM1349.01 1580.12h7.38v7.38h-7.38zM1356.23 136.92h7.38v7.38h-7.38zM1356.23 1580.12h7.38v7.38h-7.38zM1363.44 136.92h7.38v7.38h-7.38zM1363.44 1580.12h7.38v7.38h-7.38zM1370.66 136.92h7.38v21.81h-7.38zM1370.66 317.32h7.38v7.38h-7.38zM1370.66 497.72h7.38v7.38h-7.38zM1370.66 678.12h7.38v7.38h-7.38zM1370.66 851.3h7.38v21.81h-7.38zM1370.66 1038.92h7.38v7.38h-7.38zM1370.66 1219.32h7.38v7.38h-7.38zM1370.66 1399.72h7.38v7.38h-7.38zM1370.66 1565.69h7.38v21.81h-7.38zM1377.88 136.92h7.38v7.38h-7.38zM1377.88 1580.12h7.38v7.38h-7.38zM1385.09 136.92h7.38v7.38h-7.38zM1385.09 1580.12h7.38v7.38h-7.38zM1392.31 136.92h7.38v7.38h-7.38zM1392.31 1580.12h7.38v7.38h-7.38zM1399.52 136.92h7.38v7.38h-7.38zM1399.52 1580.12h7.38v7.38h-7.38zM1406.74 136.92h7.38v21.81h-7.38zM1406.74 317.32h7.38v7.38h-7.38zM1406.74 497.72h7.38v7.38h-7.38zM1406.74 678.12h7.38v7.38h-7.38zM1406.74 851.3h7.38v21.81h-7.38zM1406.74 1038.92h7.38v7.38h-7.38zM1406.74 1219.32h7.38v7.38h-7.38zM1406.74 1399.72h7.38v7.38h-7.38zM1406.74 1565.69h7.38v21.81h-7.38zM1413.96 136.92h7.38v7.38h-7.38zM1413.96 1580.12h7.38v7.38h-7.38zM1421.17 136.92h7.38v7.38h-7.38zM1421.17 1580.12h7.38v7.38h-7.38zM1428.39 136.92h7.38v7.38h-7.38zM1428.39 1580.12h7.38v7.38h-7.38zM1435.6 136.92h7.38v7.38h-7.38zM1435.6 173h7.38v7.38h-7.38zM1435.6 209.08h7.38v7.38h-7.38zM1435.6 245.16h7.38v7.38h-7.38zM1435.6 281.24h7.38v7.38h-7.38zM1435.6 317.32h7.38v7.38h-7.38zM1435.6 353.4h7.38v7.38h-7.38zM1435.6 389.48h7.38v7.38h-7.38zM1435.6 425.56h7.38v7.38h-7.38zM1435.6 461.64h7.38v7.38h-7.38zM1435.6 497.72h7.38v7.38h-7.38zM1435.6 533.8h7.38v7.38h-7.38zM1435.6 569.88h7.38v7.38h-7.38zM1435.6 605.96h7.38v7.38h-7.38zM1435.6 642.04h7.38v7.38h-7.38zM1435.6 678.12h7.38v7.38h-7.38zM1435.6 714.2h7.38v7.38h-7.38zM1435.6 750.28h7.38v7.38h-7.38zM1435.6 786.36h7.38v7.38h-7.38zM1435.6 822.44h7.38v7.38h-7.38zM1435.6 858.52h7.38v7.38h-7.38zM1435.6 894.6h7.38v7.38h-7.38zM1435.6 930.68h7.38v7.38h-7.38zM1435.6 966.76h7.38v7.38h-7.38zM1435.6 1002.84h7.38v7.38h-7.38zM1435.6 1038.92h7.38v7.38h-7.38zM1435.6 1075h7.38v7.38h-7.38zM1435.6 1111.08h7.38v7.38h-7.38zM1435.6 1147.16h7.38v7.38h-7.38zM1435.6 1183.24h7.38v7.38h-7.38zM1435.6 1219.32h7.38v7.38h-7.38zM1435.6 1255.4h7.38v7.38h-7.38zM1435.6 1291.48h7.38v7.38h-7.38zM1435.6 1327.56h7.38v7.38h-7.38zM1435.6 1363.64h7.38v7.38h-7.38zM1435.6 1399.72h7.38v7.38h-7.38zM1435.6 1435.8h7.38v7.38h-7.38zM1435.6 1471.88h7.38v7.38h-7.38zM1435.6 1507.96h7.38v7.38h-7.38zM1435.6 1544.04h7.38v7.38h-7.38zM1435.6 1580.12h7.38v7.38h-7.38zM1442.82 136.92h7.38v21.81h-7.38zM1442.82 173h7.38v7.38h-7.38zM1442.82 209.08h7.38v7.38h-7.38zM1442.82 245.16h7.38v7.38h-7.38zM1442.82 281.24h7.38v7.38h-7.38zM1442.82 317.32h7.38v7.38h-7.38zM1442.82 353.4h7.38v7.38h-7.38zM1442.82 389.48h7.38v7.38h-7.38zM1442.82 425.56h7.38v7.38h-7.38zM1442.82 461.64h7.38v7.38h-7.38zM1442.82 497.72h7.38v7.38h-7.38zM1442.82 533.8h7.38v7.38h-7.38zM1442.82 569.88h7.38v7.38h-7.38zM1442.82 605.96h7.38v7.38h-7.38zM1442.82 642.04h7.38v7.38h-7.38zM1442.82 678.12h7.38v7.38h-7.38zM1442.82 714.2h7.38v7.38h-7.38zM1442.82 750.28h7.38v7.38h-7.38zM1442.82 786.36h7.38v7.38h-7.38zM1442.82 822.44h7.38v7.38h-7.38zM1442.82 851.3h7.38v21.81h-7.38zM1442.82 894.6h7.38v7.38h-7.38zM1442.82 930.68h7.38v7.38h-7.38zM1442.82 966.76h7.38v7.38h-7.38zM1442.82 1002.84h7.38v7.38h-7.38zM1442.82 1038.92h7.38v7.38h-7.38zM1442.82 1075h7.38v7.38h-7.38zM1442.82 1111.08h7.38v7.38h-7.38zM1442.82 1147.16h7.38v7.38h-7.38zM1442.82 1183.24h7.38v7.38h-7.38zM1442.82 1219.32h7.38v7.38h-7.38zM1442.82 1255.4h7.38v7.38h-7.38zM1442.82 1291.48h7.38v7.38h-7.38zM1442.82 1327.56h7.38v7.38h-7.38zM1442.82 1363.64h7.38v7.38h-7.38zM1442.82 1399.72h7.38v7.38h-7.38zM1442.82 1435.8h7.38v7.38h-7.38zM1442.82 1471.88h7.38v7.38h-7.38zM1442.82 1507.96h7.38v7.38h-7.38zM1442.82 1544.04h7.38v7.38h-7.38zM1442.82 1565.69h7.38v21.81h-7.38zM1450.04 136.92h7.38v7.38h-7.38zM1450.04 173h7.38v7.38h-7.38zM1450.04 209.08h7.38v7.38h-7.38zM1450.04 245.16h7.38v7.38h-7.38zM1450.04 281.24h7.38v7.38h-7.38zM1450.04 317.32h7.38v7.38h-7.38zM1450.04 353.4h7.38v7.38h-7.38zM1450.04 389.48h7.38v7.38h-7.38zM1450.04 425.56h7.38v7.38h-7.38zM1450.04 461.64h7.38v7.38h-7.38zM1450.04 497.72h7.38v7.38h-7.38zM1450.04 533.8h7.38v7.38h-7.38zM1450.04 569.88h7.38v7.38h-7.38zM1450.04 605.96h7.38v7.38h-7.38zM1450.04 642.04h7.38v7.38h-7.38zM1450.04 678.12h7.38v7.38h-7.38zM1450.04 714.2h7.38v7.38h-7.38zM1450.04 750.28h7.38v7.38h-7.38zM1450.04 786.36h7.38v7.38h-7.38zM1450.04 822.44h7.38v7.38h-7.38zM1450.04 858.52h7.38v7.38h-7.38zM1450.04 894.6h7.38v7.38h-7.38zM1450.04 930.68h7.38v7.38h-7.38zM1450.04 966.76h7.38v7.38h-7.38zM1450.04 1002.84h7.38v7.38h-7.38zM1450.04 1038.92h7.38v7.38h-7.38zM1450.04 1075h7.38v7.38h-7.38zM1450.04 1111.08h7.38v7.38h-7.38zM1450.04 1147.16h7.38v7.38h-7.38zM1450.04 1183.24h7.38v7.38h-7.38zM1450.04 1219.32h7.38v7.38h-7.38zM1450.04 1255.4h7.38v7.38h-7.38zM1450.04 1291.48h7.38v7.38h-7.38zM1450.04 1327.56h7.38v7.38h-7.38zM1450.04 1363.64h7.38v7.38h-7.38zM1450.04 1399.72h7.38v7.38h-7.38zM1450.04 1435.8h7.38v7.38h-7.38zM1450.04 1471.88h7.38v7.38h-7.38zM1450.04 1507.96h7.38v7.38h-7.38zM1450.04 1544.04h7.38v7.38h-7.38zM1450.04 1580.12h7.38v7.38h-7.38zM1457.25 136.92h7.38v7.38h-7.38zM1457.25 1580.12h7.38v7.38h-7.38zM1464.47 136.92h7.38v7.38h-7.38zM1464.47 1580.12h7.38v7.38h-7.38zM1471.68 136.92h7.38v7.38h-7.38zM1471.68 1580.12h7.38v7.38h-7.38zM1478.9 136.92h7.38v21.81h-7.38zM1478.9 317.32h7.38v7.38h-7.38zM1478.9 497.72h7.38v7.38h-7.38zM1478.9 678.12h7.38v7.38h-7.38zM1478.9 851.3h7.38v21.81h-7.38zM1478.9 1038.92h7.38v7.38h-7.38zM1478.9 1219.32h7.38v7.38h-7.38zM1478.9 1399.72h7.38v7.38h-7.38zM1478.9 1565.69h7.38v21.81h-7.38zM1486.12 136.92h7.38v7.38h-7.38zM1486.12 1580.12h7.38v7.38h-7.38zM1493.33 136.92h7.38v7.38h-7.38zM1493.33 1580.12h7.38v7.38h-7.38zM1500.55 136.92h7.38v7.38h-7.38zM1500.55 1580.12h7.38v7.38h-7.38zM1507.76 136.92h7.38v7.38h-7.38zM1507.76 1580.12h7.38v7.38h-7.38zM1514.98 136.92h7.38v21.81h-7.38zM1514.98 317.32h7.38v7.38h-7.38zM1514.98 497.72h7.38v7.38h-7.38zM1514.98 678.12h7.38v7.38h-7.38zM1514.98 851.3h7.38v21.81h-7.38zM1514.98 1038.92h7.38v7.38h-7.38zM1514.98 1219.32h7.38v7.38h-7.38zM1514.98 1399.72h7.38v7.38h-7.38zM1514.98 1565.69h7.38v21.81h-7.38zM1522.2 136.92h7.38v7.38h-7.38zM1522.2 1580.12h7.38v7.38h-7.38zM1529.41 136.92h7.38v7.38h-7.38zM1529.41 1580.12h7.38v7.38h-7.38zM1536.63 136.92h7.38v7.38h-7.38zM1536.63 1580.12h7.38v7.38h-7.38zM1543.84 136.92h7.38v7.38h-7.38zM1543.84 1580.12h7.38v7.38h-7.38zM1551.06 136.92h7.38v21.81h-7.38zM1551.06 317.32h7.38v7.38h-7.38zM1551.06 497.72h7.38v7.38h-7.38zM1551.06 678.12h7.38v7.38h-7.38zM1551.06 851.3h7.38v21.81h-7.38zM1551.06 1038.92h7.38v7.38h-7.38zM1551.06 1219.32h7.38v7.38h-7.38zM1551.06 1399.72h7.38v7.38h-7.38zM1551.06 1565.69h7.38v21.81h-7.38zM1558.28 136.92h7.38v7.38h-7.38zM1558.28 1580.12h7.38v7.38h-7.38zM1565.49 136.92h7.38v7.38h-7.38zM1565.49 1580.12h7.38v7.38h-7.38zM1572.71 136.92h7.38v7.38h-7.38zM1572.71 1580.12h7.38v7.38h-7.38zM1579.92 136.92h7.38v7.38h-7.38zM1579.92 1580.12h7.38v7.38h-7.38zM1587.14 136.92h7.38v21.81h-7.38zM1587.14 317.32h7.38v7.38h-7.38zM1587.14 497.72h7.38v7.38h-7.38zM1587.14 678.12h7.38v7.38h-7.38zM1587.14 851.3h7.38v21.81h-7.38zM1587.14 1038.92h7.38v7.38h-7.38zM1587.14 1219.32h7.38v7.38h-7.38zM1587.14 1399.72h7.38v7.38h-7.38zM1587.14 1565.69h7.38v21.81h-7.38zM1594.36 136.92h7.38v7.38h-7.38zM1594.36 1580.12h7.38v7.38h-7.38zM1601.57 136.92h7.38v7.38h-7.38zM1601.57 1580.12h7.38v7.38h-7.38zM1608.79 136.92h7.38v7.38h-7.38zM1608.79 1580.12h7.38v7.38h-7.38zM1616 136.92h7.38v7.38h-7.38zM1616 1580.12h7.38v7.38h-7.38zM1623.22 136.92h7.38v21.81h-7.38zM1623.22 173h7.38v7.38h-7.38zM1623.22 209.08h7.38v7.38h-7.38zM1623.22 245.16h7.38v7.38h-7.38zM1623.22 281.24h7.38v7.38h-7.38zM1623.22 317.32h7.38v7.38h-7.38zM1623.22 353.4h7.38v7.38h-7.38zM1623.22 389.48h7.38v7.38h-7.38zM1623.22 425.56h7.38v7.38h-7.38zM1623.22 461.64h7.38v7.38h-7.38zM1623.22 497.72h7.38v7.38h-7.38zM1623.22 533.8h7.38v7.38h-7.38zM1623.22 569.88h7.38v7.38h-7.38zM1623.22 605.96h7.38v7.38h-7.38zM1623.22 642.04h7.38v7.38h-7.38zM1623.22 678.12h7.38v7.38h-7.38zM1623.22 714.2h7.38v7.38h-7.38zM1623.22 750.28h7.38v7.38h-7.38zM1623.22 786.36h7.38v7.38h-7.38zM1623.22 822.44h7.38v7.38h-7.38zM1623.22 851.3h7.38v21.81h-7.38zM1623.22 894.6h7.38v7.38h-7.38zM1623.22 930.68h7.38v7.38h-7.38zM1623.22 966.76h7.38v7.38h-7.38zM1623.22 1002.84h7.38v7.38h-7.38zM1623.22 1038.92h7.38v7.38h-7.38zM1623.22 1075h7.38v7.38h-7.38zM1623.22 1111.08h7.38v7.38h-7.38zM1623.22 1147.16h7.38v7.38h-7.38zM1623.22 1183.24h7.38v7.38h-7.38zM1623.22 1219.32h7.38v7.38h-7.38zM1623.22 1255.4h7.38v7.38h-7.38zM1623.22 1291.48h7.38v7.38h-7.38zM1623.22 1327.56h7.38v7.38h-7.38zM1623.22 1363.64h7.38v7.38h-7.38zM1623.22 1399.72h7.38v7.38h-7.38zM1623.22 1435.8h7.38v7.38h-7.38zM1623.22 1471.88h7.38v7.38h-7.38zM1623.22 1507.96h7.38v7.38h-7.38zM1623.22 1544.04h7.38v7.38h-7.38zM1623.22 1565.69h7.38v21.81h-7.38zM1630.44 136.92h7.38v7.38h-7.38zM1630.44 1580.12h7.38v7.38h-7.38zM1637.65 136.92h7.38v7.38h-7.38zM1637.65 1580.12h7.38v7.38h-7.38zM1644.87 136.92h7.38v7.38h-7.38zM1644.87 1580.12h7.38v7.38h-7.38zM1652.08 136.92h7.38v7.38h-7.38zM1652.08 1580.12h7.38v7.38h-7.38zM1659.3 136.92h7.38v21.81h-7.38zM1659.3 317.32h7.38v7.38h-7.38zM1659.3 497.72h7.38v7.38h-7.38zM1659.3 678.12h7.38v7.38h-7.38zM1659.3 851.3h7.38v21.81h-7.38zM1659.3 1038.92h7.38v7.38h-7.38zM1659.3 1219.32h7.38v7.38h-7.38zM1659.3 1399.72h7.38v7.38h-7.38zM1659.3 1565.69h7.38v21.81h-7.38zM1666.52 136.92h7.38v7.38h-7.38zM1666.52 1580.12h7.38v7.38h-7.38zM1673.73 136.92h7.38v7.38h-7.38zM1673.73 1580.12h7.38v7.38h-7.38zM1680.95 136.92h7.38v7.38h-7.38zM1680.95 1580.12h7.38v7.38h-7.38zM1688.16 136.92h7.38v7.38h-7.38zM1688.16 1580.12h7.38v7.38h-7.38zM1695.38 136.92h7.38v21.81h-7.38zM1695.38 317.32h7.38v7.38h-7.38zM1695.38 497.72h7.38v7.38h-7.38zM1695.38 678.12h7.38v7.38h-7.38zM1695.38 851.3h7.38v21.81h-7.38zM1695.38 1038.92h7.38v7.38h-7.38zM1695.38 1219.32h7.38v7.38h-7.38zM1695.38 1399.72h7.38v7.38h-7.38zM1695.38 1565.69h7.38v21.81h-7.38zM1702.6 136.92h7.38v7.38h-7.38zM1702.6 1580.12h7.38v7.38h-7.38zM1709.81 136.92h7.38v7.38h-7.38zM1709.81 1580.12h7.38v7.38h-7.38zM1717.03 136.92h7.38v7.38h-7.38zM1717.03 1580.12h7.38v7.38h-7.38zM1724.24 136.92h7.38v7.38h-7.38zM1724.24 1580.12h7.38v7.38h-7.38zM1731.46 136.92h7.38v21.81h-7.38zM1731.46 317.32h7.38v7.38h-7.38zM1731.46 497.72h7.38v7.38h-7.38zM1731.46 678.12h7.38v7.38h-7.38zM1731.46 851.3h7.38v21.81h-7.38zM1731.46 1038.92h7.38v7.38h-7.38zM1731.46 1219.32h7.38v7.38h-7.38zM1731.46 1399.72h7.38v7.38h-7.38zM1731.46 1565.69h7.38v21.81h-7.38zM1738.68 136.92h7.38v7.38h-7.38zM1738.68 1580.12h7.38v7.38h-7.38zM1745.89 136.92h7.38v7.38h-7.38zM1745.89 1580.12h7.38v7.38h-7.38zM1753.11 136.92h7.38v7.38h-7.38zM1753.11 1580.12h7.38v7.38h-7.38zM1760.32 136.92h7.38v7.38h-7.38zM1760.32 1580.12h7.38v7.38h-7.38zM1767.54 136.92h7.38v21.81h-7.38zM1767.54 317.32h7.38v7.38h-7.38zM1767.54 497.72h7.38v7.38h-7.38zM1767.54 678.12h7.38v7.38h-7.38zM1767.54 851.3h7.38v21.81h-7.38zM1767.54 1038.92h7.38v7.38h-7.38zM1767.54 1219.32h7.38v7.38h-7.38zM1767.54 1399.72h7.38v7.38h-7.38zM1767.54 1565.69h7.38v21.81h-7.38zM1774.76 136.92h7.38v7.38h-7.38zM1774.76 1580.12h7.38v7.38h-7.38zM1781.97 136.92h7.38v7.38h-7.38zM1781.97 1580.12h7.38v7.38h-7.38zM1789.19 136.92h7.38v7.38h-7.38zM1789.19 1580.12h7.38v7.38h-7.38zM1796.4 136.92h7.38v7.38h-7.38zM1796.4 1580.12h7.38v7.38h-7.38zM1803.62 136.92h7.38v21.81h-7.38zM1803.62 173h7.38v7.38h-7.38zM1803.62 209.08h7.38v7.38h-7.38zM1803.62 245.16h7.38v7.38h-7.38zM1803.62 281.24h7.38v7.38h-7.38zM1803.62 317.32h7.38v7.38h-7.38zM1803.62 353.4h7.38v7.38h-7.38zM1803.62 389.48h7.38v7.38h-7.38zM1803.62 425.56h7.38v7.38h-7.38zM1803.62 461.64h7.38v7.38h-7.38zM1803.62 497.72h7.38v7.38h-7.38zM1803.62 533.8h7.38v7.38h-7.38zM1803.62 569.88h7.38v7.38h-7.38zM1803.62 605.96h7.38v7.38h-7.38zM1803.62 642.04h7.38v7.38h-7.38zM1803.62 678.12h7.38v7.38h-7.38zM1803.62 714.2h7.38v7.38h-7.38zM1803.62 750.28h7.38v7.38h-7.38zM1803.62 786.36h7.38v7.38h-7.38zM1803.62 822.44h7.38v7.38h-7.38zM1803.62 851.3h7.38v21.81h-7.38zM1803.62 894.6h7.38v7.38h-7.38zM1803.62 930.68h7.38v7.38h-7.38zM1803.62 966.76h7.38v7.38h-7.38zM1803.62 1002.84h7.38v7.38h-7.38zM1803.62 1038.92h7.38v7.38h-7.38zM1803.62 1075h7.38v7.38h-7.38zM1803.62 1111.08h7.38v7.38h-7.38zM1803.62 1147.16h7.38v7.38h-7.38zM1803.62 1183.24h7.38v7.38h-7.38zM1803.62 1219.32h7.38v7.38h-7.38zM1803.62 1255.4h7.38v7.38h-7.38zM1803.62 1291.48h7.38v7.38h-7.38zM1803.62 1327.56h7.38v7.38h-7.38zM1803.62 1363.64h7.38v7.38h-7.38zM1803.62 1399.72h7.38v7.38h-7.38zM1803.62 1435.8h7.38v7.38h-7.38zM1803.62 1471.88h7.38v7.38h-7.38zM1803.62 1507.96h7.38v7.38h-7.38zM1803.62 1544.04h7.38v7.38h-7.38zM1803.62 1565.69h7.38v21.81h-7.38zM1810.84 136.92h7.38v7.38h-7.38zM1810.84 1580.12h7.38v7.38h-7.38zM1818.05 136.92h7.38v7.38h-7.38zM1818.05 1580.12h7.38v7.38h-7.38zM1825.27 136.92h7.38v7.38h-7.38zM1825.27 1580.12h7.38v7.38h-7.38zM1832.48 136.92h7.38v7.38h-7.38zM1832.48 1580.12h7.38v7.38h-7.38zM1839.7 136.92h7.38v21.81h-7.38zM1839.7 317.32h7.38v7.38h-7.38zM1839.7 497.72h7.38v7.38h-7.38zM1839.7 678.12h7.38v7.38h-7.38zM1839.7 851.3h7.38v21.81h-7.38zM1839.7 1038.92h7.38v7.38h-7.38zM1839.7 1219.32h7.38v7.38h-7.38zM1839.7 1399.72h7.38v7.38h-7.38zM1839.7 1565.69h7.38v21.81h-7.38zM1846.92 136.92h7.38v7.38h-7.38zM1846.92 1580.12h7.38v7.38h-7.38zM1854.13 136.92h7.38v7.38h-7.38zM1854.13 1580.12h7.38v7.38h-7.38zM1861.35 136.92h7.38v7.38h-7.38zM1861.35 1580.12h7.38v7.38h-7.38zM1868.56 136.92h7.38v7.38h-7.38zM1868.56 1580.12h7.38v7.38h-7.38zM1875.78 136.92h7.38v21.81h-7.38zM1875.78 317.32h7.38v7.38h-7.38zM1875.78 497.72h7.38v7.38h-7.38zM1875.78 678.12h7.38v7.38h-7.38zM1875.78 851.3h7.38v21.81h-7.38zM1875.78 1038.92h7.38v7.38h-7.38zM1875.78 1219.32h7.38v7.38h-7.38zM1875.78 1399.72h7.38v7.38h-7.38zM1875.78 1565.69h7.38v21.81h-7.38zM1883 136.92h7.38v7.38h-7.38zM1883 1580.12h7.38v7.38h-7.38zM1890.21 136.92h7.38v7.38h-7.38zM1890.21 1580.12h7.38v7.38h-7.38zM1897.43 136.92h7.38v7.38h-7.38zM1897.43 1580.12h7.38v7.38h-7.38zM1904.64 136.92h7.38v7.38h-7.38zM1904.64 1580.12h7.38v7.38h-7.38zM1911.86 136.92h7.38v21.81h-7.38zM1911.86 317.32h7.38v7.38h-7.38zM1911.86 497.72h7.38v7.38h-7.38zM1911.86 678.12h7.38v7.38h-7.38zM1911.86 851.3h7.38v21.81h-7.38zM1911.86 1038.92h7.38v7.38h-7.38zM1911.86 1219.32h7.38v7.38h-7.38zM1911.86 1399.72h7.38v7.38h-7.38zM1911.86 1565.69h7.38v21.81h-7.38zM1919.08 136.92h7.38v7.38h-7.38zM1919.08 1580.12h7.38v7.38h-7.38zM1926.29 136.92h7.38v7.38h-7.38zM1926.29 1580.12h7.38v7.38h-7.38zM1933.51 136.92h7.38v7.38h-7.38zM1933.51 1580.12h7.38v7.38h-7.38zM1940.72 136.92h7.38v7.38h-7.38zM1940.72 1580.12h7.38v7.38h-7.38zM1947.94 136.92h7.38v21.81h-7.38zM1947.94 317.32h7.38v7.38h-7.38zM1947.94 497.72h7.38v7.38h-7.38zM1947.94 678.12h7.38v7.38h-7.38zM1947.94 851.3h7.38v21.81h-7.38zM1947.94 1038.92h7.38v7.38h-7.38zM1947.94 1219.32h7.38v7.38h-7.38zM1947.94 1399.72h7.38v7.38h-7.38zM1947.94 1565.69h7.38v21.81h-7.38zM1955.16 136.92h7.38v7.38h-7.38zM1955.16 1580.12h7.38v7.38h-7.38zM1962.37 136.92h7.38v7.38h-7.38zM1962.37 1580.12h7.38v7.38h-7.38zM1969.59 136.92h7.38v7.38h-7.38zM1969.59 1580.12h7.38v7.38h-7.38zM1976.8 136.92h7.38v7.38h-7.38zM1976.8 1580.12h7.38v7.38h-7.38zM1984.02 136.92h7.38v21.81h-7.38zM1984.02 173h7.38v7.38h-7.38zM1984.02 209.08h7.38v7.38h-7.38zM1984.02 245.16h7.38v7.38h-7.38zM1984.02 281.24h7.38v7.38h-7.38zM1984.02 317.32h7.38v7.38h-7.38zM1984.02 353.4h7.38v7.38h-7.38zM1984.02 389.48h7.38v7.38h-7.38zM1984.02 425.56h7.38v7.38h-7.38zM1984.02 461.64h7.38v7.38h-7.38zM1984.02 497.72h7.38v7.38h-7.38zM1984.02 533.8h7.38v7.38h-7.38zM1984.02 569.88h7.38v7.38h-7.38zM1984.02 605.96h7.38v7.38h-7.38zM1984.02 642.04h7.38v7.38h-7.38zM1984.02 678.12h7.38v7.38h-7.38zM1984.02 714.2h7.38v7.38h-7.38zM1984.02 750.28h7.38v7.38h-7.38zM1984.02 786.36h7.38v7.38h-7.38zM1984.02 822.44h7.38v7.38h-7.38zM1984.02 851.3h7.38v21.81h-7.38zM1984.02 894.6h7.38v7.38h-7.38zM1984.02 930.68h7.38v7.38h-7.38zM1984.02 966.76h7.38v7.38h-7.38zM1984.02 1002.84h7.38v7.38h-7.38zM1984.02 1038.92h7.38v7.38h-7.38zM1984.02 1075h7.38v7.38h-7.38zM1984.02 1111.08h7.38v7.38h-7.38zM1984.02 1147.16h7.38v7.38h-7.38zM1984.02 1183.24h7.38v7.38h-7.38zM1984.02 1219.32h7.38v7.38h-7.38zM1984.02 1255.4h7.38v7.38h-7.38zM1984.02 1291.48h7.38v7.38h-7.38zM1984.02 1327.56h7.38v7.38h-7.38zM1984.02 1363.64h7.38v7.38h-7.38zM1984.02 1399.72h7.38v7.38h-7.38zM1984.02 1435.8h7.38v7.38h-7.38zM1984.02 1471.88h7.38v7.38h-7.38zM1984.02 1507.96h7.38v7.38h-7.38zM1984.02 1544.04h7.38v7.38h-7.38zM1984.02 1565.69h7.38v21.81h-7.38zM1991.24 136.92h7.38v7.38h-7.38zM1991.24 1580.12h7.38v7.38h-7.38zM1998.45 136.92h7.38v7.38h-7.38zM1998.45 1580.12h7.38v7.38h-7.38zM2005.67 136.92h7.38v7.38h-7.38zM2005.67 1580.12h7.38v7.38h-7.38zM2012.88 136.92h7.38v7.38h-7.38zM2012.88 1580.12h7.38v7.38h-7.38zM2020.1 136.92h7.38v21.81h-7.38zM2020.1 317.32h7.38v7.38h-7.38zM2020.1 497.72h7.38v7.38h-7.38zM2020.1 678.12h7.38v7.38h-7.38zM2020.1 851.3h7.38v21.81h-7.38zM2020.1 1038.92h7.38v7.38h-7.38zM2020.1 1219.32h7.38v7.38h-7.38zM2020.1 1399.72h7.38v7.38h-7.38zM2020.1 1565.69h7.38v21.81h-7.38zM2027.32 136.92h7.38v7.38h-7.38zM2027.32 1580.12h7.38v7.38h-7.38zM2034.53 136.92h7.38v7.38h-7.38zM2034.53 1580.12h7.38v7.38h-7.38zM2041.75 136.92h7.38v7.38h-7.38zM2041.75 1580.12h7.38v7.38h-7.38zM2048.96 136.92h7.38v7.38h-7.38zM2048.96 1580.12h7.38v7.38h-7.38zM2056.18 136.92h7.38v21.81h-7.38zM2056.18 317.32h7.38v7.38h-7.38zM2056.18 497.72h7.38v7.38h-7.38zM2056.18 678.12h7.38v7.38h-7.38zM2056.18 851.3h7.38v21.81h-7.38zM2056.18 1038.92h7.38v7.38h-7.38zM2056.18 1219.32h7.38v7.38h-7.38zM2056.18 1399.72h7.38v7.38h-7.38zM2056.18 1565.69h7.38v21.81h-7.38zM2063.4 136.92h7.38v7.38h-7.38zM2063.4 1580.12h7.38v7.38h-7.38zM2070.61 136.92h7.38v7.38h-7.38zM2070.61 1580.12h7.38v7.38h-7.38zM2077.83 136.92h7.38v7.38h-7.38zM2077.83 1580.12h7.38v7.38h-7.38zM2085.04 136.92h7.38v7.38h-7.38zM2085.04 1580.12h7.38v7.38h-7.38zM2092.26 136.92h7.38v21.81h-7.38zM2092.26 317.32h7.38v7.38h-7.38zM2092.26 497.72h7.38v7.38h-7.38zM2092.26 678.12h7.38v7.38h-7.38zM2092.26 851.3h7.38v21.81h-7.38zM2092.26 1038.92h7.38v7.38h-7.38zM2092.26 1219.32h7.38v7.38h-7.38zM2092.26 1399.72h7.38v7.38h-7.38zM2092.26 1565.69h7.38v21.81h-7.38zM2099.48 136.92h7.38v7.38h-7.38zM2099.48 1580.12h7.38v7.38h-7.38zM2106.69 136.92h7.38v7.38h-7.38zM2106.69 1580.12h7.38v7.38h-7.38zM2113.91 136.92h7.38v7.38h-7.38zM2113.91 1580.12h7.38v7.38h-7.38zM2121.12 136.92h7.38v7.38h-7.38zM2121.12 1580.12h7.38v7.38h-7.38zM2128.34 136.92h7.38v21.81h-7.38zM2128.34 317.32h7.38v7.38h-7.38zM2128.34 497.72h7.38v7.38h-7.38zM2128.34 678.12h7.38v7.38h-7.38zM2128.34 851.3h7.38v21.81h-7.38zM2128.34 1038.92h7.38v7.38h-7.38zM2128.34 1219.32h7.38v7.38h-7.38zM2128.34 1399.72h7.38v7.38h-7.38zM2128.34 1565.69h7.38v21.81h-7.38zM2135.56 136.92h7.38v7.38h-7.38zM2135.56 1580.12h7.38v7.38h-7.38zM2142.77 136.92h7.38v7.38h-7.38zM2142.77 1580.12h7.38v7.38h-7.38zM2149.99 136.92h7.38v7.38h-7.38zM2149.99 1580.12h7.38v7.38h-7.38zM2157.2 136.92h7.38v7.38h-7.38zM2157.2 1580.12h7.38v7.38h-7.38zM2164.42 136.92h7.38v21.81h-7.38zM2164.42 173h7.38v7.38h-7.38zM2164.42 209.08h7.38v7.38h-7.38zM2164.42 245.16h7.38v7.38h-7.38zM2164.42 281.24h7.38v7.38h-7.38zM2164.42 317.32h7.38v7.38h-7.38zM2164.42 353.4h7.38v7.38h-7.38zM2164.42 389.48h7.38v7.38h-7.38zM2164.42 425.56h7.38v7.38h-7.38zM2164.42 461.64h7.38v7.38h-7.38zM2164.42 497.72h7.38v7.38h-7.38zM2164.42 533.8h7.38v7.38h-7.38zM2164.42 569.88h7.38v7.38h-7.38zM2164.42 605.96h7.38v7.38h-7.38zM2164.42 642.04h7.38v7.38h-7.38zM2164.42 678.12h7.38v7.38h-7.38zM2164.42 714.2h7.38v7.38h-7.38zM2164.42 750.28h7.38v7.38h-7.38zM2164.42 786.36h7.38v7.38h-7.38zM2164.42 822.44h7.38v7.38h-7.38zM2164.42 851.3h7.38v21.81h-7.38zM2164.42 894.6h7.38v7.38h-7.38zM2164.42 930.68h7.38v7.38h-7.38zM2164.42 966.76h7.38v7.38h-7.38zM2164.42 1002.84h7.38v7.38h-7.38zM2164.42 1038.92h7.38v7.38h-7.38zM2164.42 1075h7.38v7.38h-7.38zM2164.42 1111.08h7.38v7.38h-7.38zM2164.42 1147.16h7.38v7.38h-7.38zM2164.42 1183.24h7.38v7.38h-7.38zM2164.42 1219.32h7.38v7.38h-7.38zM2164.42 1255.4h7.38v7.38h-7.38zM2164.42 1291.48h7.38v7.38h-7.38zM2164.42 1327.56h7.38v7.38h-7.38zM2164.42 1363.64h7.38v7.38h-7.38zM2164.42 1399.72h7.38v7.38h-7.38zM2164.42 1435.8h7.38v7.38h-7.38zM2164.42 1471.88h7.38v7.38h-7.38zM2164.42 1507.96h7.38v7.38h-7.38zM2164.42 1544.04h7.38v7.38h-7.38zM2164.42 1565.69h7.38v21.81h-7.38zM2171.64 136.92h7.38v7.38h-7.38zM2171.64 1580.12h7.38v7.38h-7.38zM2178.85 136.92h7.38v7.38h-7.38zM2178.85 1580.12h7.38v7.38h-7.38zM2186.07 136.92h7.38v7.38h-7.38zM2186.07 1580.12h7.38v7.38h-7.38zM2193.28 136.92h7.38v7.38h-7.38zM2193.28 1580.12h7.38v7.38h-7.38zM2200.5 136.92h7.38v21.81h-7.38zM2200.5 317.32h7.38v7.38h-7.38zM2200.5 497.72h7.38v7.38h-7.38zM2200.5 678.12h7.38v7.38h-7.38zM2200.5 851.3h7.38v21.81h-7.38zM2200.5 1038.92h7.38v7.38h-7.38zM2200.5 1219.32h7.38v7.38h-7.38zM2200.5 1399.72h7.38v7.38h-7.38zM2200.5 1565.69h7.38v21.81h-7.38zM2207.72 136.92h7.38v7.38h-7.38zM2207.72 1580.12h7.38v7.38h-7.38zM2214.93 136.92h7.38v7.38h-7.38zM2214.93 1580.12h7.38v7.38h-7.38zM2222.15 136.92h7.38v7.38h-7.38zM2222.15 1580.12h7.38v7.38h-7.38zM2229.36 136.92h7.38v7.38h-7.38zM2229.36 1580.12h7.38v7.38h-7.38zM2236.58 136.92h7.38v21.81h-7.38zM2236.58 317.32h7.38v7.38h-7.38zM2236.58 497.72h7.38v7.38h-7.38zM2236.58 678.12h7.38v7.38h-7.38zM2236.58 851.3h7.38v21.81h-7.38zM2236.58 1038.92h7.38v7.38h-7.38zM2236.58 1219.32h7.38v7.38h-7.38zM2236.58 1399.72h7.38v7.38h-7.38zM2236.58 1565.69h7.38v21.81h-7.38zM2243.8 136.92h7.38v7.38h-7.38zM2243.8 1580.12h7.38v7.38h-7.38zM2251.01 136.92h7.38v7.38h-7.38zM2251.01 1580.12h7.38v7.38h-7.38zM2258.23 136.92h7.38v7.38h-7.38zM2258.23 1580.12h7.38v7.38h-7.38zM2265.44 136.92h7.38v7.38h-7.38zM2265.44 1580.12h7.38v7.38h-7.38zM2272.66 136.92h7.38v21.81h-7.38zM2272.66 317.32h7.38v7.38h-7.38zM2272.66 497.72h7.38v7.38h-7.38zM2272.66 678.12h7.38v7.38h-7.38zM2272.66 851.3h7.38v21.81h-7.38zM2272.66 1038.92h7.38v7.38h-7.38zM2272.66 1219.32h7.38v7.38h-7.38zM2272.66 1399.72h7.38v7.38h-7.38zM2272.66 1565.69h7.38v21.81h-7.38zM2279.88 136.92h7.38v7.38h-7.38zM2279.88 1580.12h7.38v7.38h-7.38zM2287.09 136.92h7.38v7.38h-7.38zM2287.09 1580.12h7.38v7.38h-7.38zM2294.31 136.92h7.38v7.38h-7.38zM2294.31 1580.12h7.38v7.38h-7.38zM2301.52 136.92h7.38v7.38h-7.38zM2301.52 1580.12h7.38v7.38h-7.38zM2308.74 136.92h7.38v21.81h-7.38zM2308.74 317.32h7.38v7.38h-7.38zM2308.74 497.72h7.38v7.38h-7.38zM2308.74 678.12h7.38v7.38h-7.38zM2308.74 851.3h7.38v21.81h-7.38zM2308.74 1038.92h7.38v7.38h-7.38zM2308.74 1219.32h7.38v7.38h-7.38zM2308.74 1399.72h7.38v7.38h-7.38zM2308.74 1565.69h7.38v21.81h-7.38zM2315.96 136.92h7.38v7.38h-7.38zM2315.96 1580.12h7.38v7.38h-7.38zM2323.17 136.92h7.38v7.38h-7.38zM2323.17 1580.12h7.38v7.38h-7.38zM2330.39 136.92h7.38v7.38h-7.38zM2330.39 173h7.38v7.38h-7.38zM2330.39 209.08h7.38v7.38h-7.38zM2330.39 245.16h7.38v7.38h-7.38zM2330.39 281.24h7.38v7.38h-7.38zM2330.39 317.32h7.38v7.38h-7.38zM2330.39 353.4h7.38v7.38h-7.38zM2330.39 389.48h7.38v7.38h-7.38zM2330.39 425.56h7.38v7.38h-7.38zM2330.39 461.64h7.38v7.38h-7.38zM2330.39 497.72h7.38v7.38h-7.38zM2330.39 533.8h7.38v7.38h-7.38zM2330.39 569.88h7.38v7.38h-7.38zM2330.39 605.96h7.38v7.38h-7.38zM2330.39 642.04h7.38v7.38h-7.38zM2330.39 678.12h7.38v7.38h-7.38zM2330.39 714.2h7.38v7.38h-7.38zM2330.39 750.28h7.38v7.38h-7.38zM2330.39 786.36h7.38v7.38h-7.38zM2330.39 822.44h7.38v7.38h-7.38zM2330.39 858.52h7.38v7.38h-7.38zM2330.39 894.6h7.38v7.38h-7.38zM2330.39 930.68h7.38v7.38h-7.38zM2330.39 966.76h7.38v7.38h-7.38zM2330.39 1002.84h7.38v7.38h-7.38zM2330.39 1038.92h7.38v7.38h-7.38zM2330.39 1075h7.38v7.38h-7.38zM2330.39 1111.08h7.38v7.38h-7.38zM2330.39 1147.16h7.38v7.38h-7.38zM2330.39 1183.24h7.38v7.38h-7.38zM2330.39 1219.32h7.38v7.38h-7.38zM2330.39 1255.4h7.38v7.38h-7.38zM2330.39 1291.48h7.38v7.38h-7.38zM2330.39 1327.56h7.38v7.38h-7.38zM2330.39 1363.64h7.38v7.38h-7.38zM2330.39 1399.72h7.38v7.38h-7.38zM2330.39 1435.8h7.38v7.38h-7.38zM2330.39 1471.88h7.38v7.38h-7.38zM2330.39 1507.96h7.38v7.38h-7.38zM2330.39 1544.04h7.38v7.38h-7.38zM2330.39 1580.12h7.38v7.38h-7.38zM2337.6 136.92h7.38v7.38h-7.38zM2337.6 173h7.38v7.38h-7.38zM2337.6 209.08h7.38v7.38h-7.38zM2337.6 245.16h7.38v7.38h-7.38zM2337.6 281.24h7.38v7.38h-7.38zM2337.6 317.32h7.38v7.38h-7.38zM2337.6 353.4h7.38v7.38h-7.38zM2337.6 389.48h7.38v7.38h-7.38zM2337.6 425.56h7.38v7.38h-7.38zM2337.6 461.64h7.38v7.38h-7.38zM2337.6 497.72h7.38v7.38h-7.38zM2337.6 533.8h7.38v7.38h-7.38zM2337.6 569.88h7.38v7.38h-7.38zM2337.6 605.96h7.38v7.38h-7.38zM2337.6 642.04h7.38v7.38h-7.38zM2337.6 678.12h7.38v7.38h-7.38zM2337.6 714.2h7.38v7.38h-7.38zM2337.6 750.28h7.38v7.38h-7.38zM2337.6 786.36h7.38v7.38h-7.38zM2337.6 822.44h7.38v7.38h-7.38zM2337.6 858.52h7.38v7.38h-7.38zM2337.6 894.6h7.38v7.38h-7.38zM2337.6 930.68h7.38v7.38h-7.38zM2337.6 966.76h7.38v7.38h-7.38zM2337.6 1002.84h7.38v7.38h-7.38zM2337.6 1038.92h7.38v7.38h-7.38zM2337.6 1075h7.38v7.38h-7.38zM2337.6 1111.08h7.38v7.38h-7.38zM2337.6 1147.16h7.38v7.38h-7.38zM2337.6 1183.24h7.38v7.38h-7.38zM2337.6 1219.32h7.38v7.38h-7.38zM2337.6 1255.4h7.38v7.38h-7.38zM2337.6 1291.48h7.38v7.38h-7.38zM2337.6 1327.56h7.38v7.38h-7.38zM2337.6 1363.64h7.38v7.38h-7.38zM2337.6 1399.72h7.38v7.38h-7.38zM2337.6 1435.8h7.38v7.38h-7.38zM2337.6 1471.88h7.38v7.38h-7.38zM2337.6 1507.96h7.38v7.38h-7.38zM2337.6 1544.04h7.38v7.38h-7.38zM2337.6 1580.12h7.38v7.38h-7.38zM2344.82 136.92h7.38v1450.58h-7.38z"/></defs>
<use href="#grat" fill="#cbcbcb"/>
<rect x="710.48" y="162" width="14.42" height="1416" fill="#eafff0"/>
<rect x="1944.42" y="165.6" width="14.42" height="1412.4" fill="#f3fff6"/>
<rect x="691.7" y="398" width="267.2" height="352" fill="url(#gp)"/>
<rect x="958.9" y="398" width="966.9" height="355.5" fill="url(#gy)"/>
<clipPath id="cb"><rect x="691.7" y="440" width="1234.1" height="310"/></clipPath>
<use href="#grat" fill="#000" opacity="0.11" clip-path="url(#cb)"/>
<path d="M540.82 670.9h7.38v29.02h-7.38zM548.04 670.9h7.38v21.81h-7.38zM555.25 670.9h7.38v29.02h-7.38zM562.47 663.69h7.38v29.02h-7.38zM569.68 670.9h7.38v21.81h-7.38zM576.9 577.1h7.38v122.83h-7.38zM584.12 663.69h7.38v29.02h-7.38zM591.33 613.18h7.38v86.75h-7.38zM598.55 663.69h7.38v36.24h-7.38zM605.76 663.69h7.38v36.24h-7.38zM612.98 670.9h7.38v21.81h-7.38zM620.2 670.9h7.38v21.81h-7.38zM627.41 670.9h7.38v14.59h-7.38zM634.63 591.53h7.38v108.4h-7.38zM641.84 663.69h7.38v21.81h-7.38zM649.06 663.69h7.38v29.02h-7.38zM656.28 670.9h7.38v14.59h-7.38zM663.49 670.9h7.38v21.81h-7.38zM670.71 649.26h7.38v57.89h-7.38zM677.92 642.04h7.38v57.89h-7.38zM685.14 497.72h7.38v194.99h-7.38z" fill="#02b6ba"/>
<path d="M692.36 483.29h7.38v29.02h-7.38zM699.57 476.07h7.38v36.24h-7.38zM706.79 490.5h7.38v21.81h-7.38zM714 490.5h7.38v29.02h-7.38zM721.22 497.72h7.38v21.81h-7.38zM728.44 476.07h7.38v43.46h-7.38zM735.65 497.72h7.38v21.81h-7.38zM742.87 497.72h7.38v93.97h-7.38zM750.08 497.72h7.38v21.81h-7.38zM757.3 447.21h7.38v79.54h-7.38zM764.52 504.94h7.38v21.81h-7.38zM771.73 504.94h7.38v115.62h-7.38zM778.95 504.94h7.38v21.81h-7.38zM786.16 504.94h7.38v21.81h-7.38zM793.38 476.07h7.38v57.89h-7.38zM800.6 504.94h7.38v21.81h-7.38zM807.81 512.15h7.38v108.4h-7.38zM815.03 512.15h7.38v21.81h-7.38zM822.24 468.86h7.38v65.1h-7.38zM829.46 512.15h7.38v29.02h-7.38zM836.68 519.37h7.38v101.18h-7.38zM843.89 512.15h7.38v29.02h-7.38zM851.11 519.37h7.38v21.81h-7.38zM858.32 519.37h7.38v29.02h-7.38zM865.54 447.21h7.38v101.18h-7.38zM872.76 519.37h7.38v29.02h-7.38zM879.97 519.37h7.38v108.4h-7.38zM887.19 526.58h7.38v29.02h-7.38zM894.4 526.58h7.38v21.81h-7.38zM901.62 526.58h7.38v21.81h-7.38zM908.84 526.58h7.38v21.81h-7.38zM916.05 526.58h7.38v29.02h-7.38zM923.27 490.5h7.38v65.1h-7.38zM930.48 533.8h7.38v21.81h-7.38zM937.7 533.8h7.38v21.81h-7.38zM944.92 533.8h7.38v50.67h-7.38zM952.13 533.8h7.38v209.42h-7.38z" fill="#0568a6"/>
<path d="M959.35 685.34h7.38v36.24h-7.38zM966.56 692.55h7.38v29.02h-7.38zM973.78 699.77h7.38v36.24h-7.38zM981 699.77h7.38v21.81h-7.38zM988.21 685.34h7.38v43.46h-7.38zM995.43 685.34h7.38v50.67h-7.38zM1002.64 685.34h7.38v36.24h-7.38zM1009.86 685.34h7.38v36.24h-7.38zM1017.08 699.77h7.38v29.02h-7.38zM1024.29 699.77h7.38v21.81h-7.38zM1031.51 692.55h7.38v29.02h-7.38zM1038.72 699.77h7.38v29.02h-7.38zM1045.94 692.55h7.38v36.24h-7.38zM1053.16 699.77h7.38v29.02h-7.38zM1060.37 692.55h7.38v29.02h-7.38zM1067.59 699.77h7.38v21.81h-7.38zM1074.8 699.77h7.38v21.81h-7.38zM1082.02 692.55h7.38v21.81h-7.38zM1089.24 678.12h7.38v43.46h-7.38zM1096.45 692.55h7.38v29.02h-7.38zM1103.67 692.55h7.38v21.81h-7.38zM1110.88 699.77h7.38v43.46h-7.38zM1118.1 692.55h7.38v21.81h-7.38zM1125.32 663.69h7.38v50.67h-7.38zM1132.53 685.34h7.38v43.46h-7.38zM1139.75 692.55h7.38v29.02h-7.38zM1146.96 692.55h7.38v21.81h-7.38zM1154.18 656.47h7.38v57.89h-7.38zM1161.4 685.34h7.38v29.02h-7.38zM1168.61 699.77h7.38v14.59h-7.38zM1175.83 692.55h7.38v50.67h-7.38zM1183.04 627.61h7.38v86.75h-7.38zM1190.26 656.47h7.38v57.89h-7.38zM1197.48 670.9h7.38v43.46h-7.38zM1204.69 692.55h7.38v21.81h-7.38zM1211.91 692.55h7.38v21.81h-7.38zM1219.12 678.12h7.38v50.67h-7.38zM1226.34 692.55h7.38v21.81h-7.38zM1233.56 685.34h7.38v57.89h-7.38zM1240.77 685.34h7.38v50.67h-7.38zM1247.99 685.34h7.38v29.02h-7.38zM1255.2 692.55h7.38v29.02h-7.38zM1262.42 692.55h7.38v21.81h-7.38zM1269.64 678.12h7.38v36.24h-7.38zM1276.85 692.55h7.38v21.81h-7.38zM1284.07 692.55h7.38v43.46h-7.38zM1291.28 670.9h7.38v43.46h-7.38zM1298.5 685.34h7.38v29.02h-7.38zM1305.72 692.55h7.38v21.81h-7.38zM1312.93 685.34h7.38v29.02h-7.38zM1320.15 663.69h7.38v50.67h-7.38zM1327.36 692.55h7.38v29.02h-7.38zM1334.58 670.9h7.38v50.67h-7.38zM1341.8 656.47h7.38v72.32h-7.38zM1349.01 685.34h7.38v29.02h-7.38zM1356.23 678.12h7.38v36.24h-7.38zM1363.44 642.04h7.38v72.32h-7.38zM1370.66 685.34h7.38v50.67h-7.38zM1377.88 685.34h7.38v36.24h-7.38zM1385.09 685.34h7.38v36.24h-7.38zM1392.31 649.26h7.38v72.32h-7.38zM1399.52 685.34h7.38v29.02h-7.38zM1406.74 685.34h7.38v36.24h-7.38zM1413.96 685.34h7.38v50.67h-7.38zM1421.17 685.34h7.38v29.02h-7.38zM1428.39 678.12h7.38v43.46h-7.38zM1435.6 613.18h7.38v101.18h-7.38zM1442.82 663.69h7.38v57.89h-7.38zM1450.04 678.12h7.38v36.24h-7.38zM1457.25 642.04h7.38v93.97h-7.38zM1464.47 678.12h7.38v36.24h-7.38zM1471.68 685.34h7.38v29.02h-7.38zM1478.9 642.04h7.38v72.32h-7.38zM1486.12 663.69h7.38v50.67h-7.38zM1493.33 685.34h7.38v29.02h-7.38zM1500.55 685.34h7.38v29.02h-7.38zM1507.76 670.9h7.38v43.46h-7.38zM1514.98 685.34h7.38v29.02h-7.38zM1522.2 685.34h7.38v36.24h-7.38zM1529.41 685.34h7.38v21.81h-7.38zM1536.63 685.34h7.38v29.02h-7.38zM1543.84 678.12h7.38v29.02h-7.38zM1551.06 678.12h7.38v36.24h-7.38zM1558.28 678.12h7.38v29.02h-7.38zM1565.49 642.04h7.38v72.32h-7.38zM1572.71 642.04h7.38v65.1h-7.38zM1579.92 685.34h7.38v21.81h-7.38zM1587.14 678.12h7.38v29.02h-7.38zM1594.36 642.04h7.38v65.1h-7.38zM1601.57 685.34h7.38v21.81h-7.38zM1608.79 670.9h7.38v43.46h-7.38zM1616 685.34h7.38v21.81h-7.38zM1623.22 670.9h7.38v86.75h-7.38zM1630.44 678.12h7.38v36.24h-7.38zM1637.65 663.69h7.38v43.46h-7.38zM1644.87 678.12h7.38v29.02h-7.38zM1652.08 678.12h7.38v29.02h-7.38zM1659.3 656.47h7.38v50.67h-7.38zM1666.52 678.12h7.38v29.02h-7.38zM1673.73 678.12h7.38v29.02h-7.38zM1680.95 670.9h7.38v36.24h-7.38zM1688.16 678.12h7.38v57.89h-7.38zM1695.38 678.12h7.38v36.24h-7.38zM1702.6 678.12h7.38v29.02h-7.38zM1709.81 649.26h7.38v65.1h-7.38zM1717.03 678.12h7.38v36.24h-7.38zM1724.24 663.69h7.38v43.46h-7.38zM1731.46 656.47h7.38v65.1h-7.38zM1738.68 678.12h7.38v43.46h-7.38zM1745.89 649.26h7.38v72.32h-7.38zM1753.11 678.12h7.38v57.89h-7.38zM1760.32 678.12h7.38v29.02h-7.38zM1767.54 670.9h7.38v36.24h-7.38zM1774.76 678.12h7.38v29.02h-7.38zM1781.97 670.9h7.38v43.46h-7.38zM1789.19 670.9h7.38v36.24h-7.38zM1796.4 678.12h7.38v43.46h-7.38zM1803.62 670.9h7.38v36.24h-7.38zM1810.84 670.9h7.38v43.46h-7.38zM1818.05 670.9h7.38v29.02h-7.38zM1825.27 663.69h7.38v36.24h-7.38zM1832.48 678.12h7.38v36.24h-7.38zM1839.7 670.9h7.38v29.02h-7.38zM1846.92 678.12h7.38v21.81h-7.38zM1854.13 678.12h7.38v21.81h-7.38zM1861.35 663.69h7.38v50.67h-7.38zM1868.56 670.9h7.38v29.02h-7.38zM1875.78 634.82h7.38v72.32h-7.38zM1883 663.69h7.38v36.24h-7.38zM1890.21 670.9h7.38v43.46h-7.38zM1897.43 670.9h7.38v29.02h-7.38zM1904.64 620.39h7.38v79.54h-7.38zM1911.86 613.18h7.38v86.75h-7.38zM1919.08 642.04h7.38v57.89h-7.38z" fill="#2fe089"/>
<path d="M1926.29 490.5h7.38v194.99h-7.38zM1933.51 468.86h7.38v57.89h-7.38zM1940.72 476.07h7.38v50.67h-7.38zM1947.94 476.07h7.38v65.1h-7.38zM1955.16 476.07h7.38v86.75h-7.38zM1962.37 483.29h7.38v43.46h-7.38zM1969.59 490.5h7.38v65.1h-7.38zM1976.8 504.94h7.38v36.24h-7.38zM1984.02 512.15h7.38v43.46h-7.38zM1991.24 519.37h7.38v50.67h-7.38zM1998.45 512.15h7.38v43.46h-7.38zM2005.67 519.37h7.38v65.1h-7.38zM2012.88 504.94h7.38v79.54h-7.38zM2020.1 512.15h7.38v50.67h-7.38zM2027.32 519.37h7.38v65.1h-7.38zM2034.53 519.37h7.38v36.24h-7.38zM2041.75 512.15h7.38v72.32h-7.38zM2048.96 504.94h7.38v50.67h-7.38zM2056.18 519.37h7.38v43.46h-7.38zM2063.4 519.37h7.38v43.46h-7.38zM2070.61 526.58h7.38v57.89h-7.38zM2077.83 526.58h7.38v29.02h-7.38zM2085.04 526.58h7.38v29.02h-7.38zM2092.26 526.58h7.38v29.02h-7.38zM2099.48 526.58h7.38v36.24h-7.38zM2106.69 519.37h7.38v50.67h-7.38zM2113.91 512.15h7.38v57.89h-7.38zM2121.12 519.37h7.38v36.24h-7.38zM2128.34 519.37h7.38v50.67h-7.38zM2135.56 519.37h7.38v43.46h-7.38zM2142.77 504.94h7.38v65.1h-7.38zM2149.99 519.37h7.38v43.46h-7.38zM2157.2 504.94h7.38v57.89h-7.38zM2164.42 519.37h7.38v43.46h-7.38zM2171.64 519.37h7.38v43.46h-7.38zM2178.85 512.15h7.38v65.1h-7.38zM2186.07 512.15h7.38v180.56h-7.38zM2193.28 678.12h7.38v57.89h-7.38zM2200.5 678.12h7.38v57.89h-7.38zM2207.72 692.55h7.38v65.1h-7.38zM2214.93 678.12h7.38v57.89h-7.38zM2222.15 692.55h7.38v57.89h-7.38zM2229.36 685.34h7.38v43.46h-7.38zM2236.58 685.34h7.38v57.89h-7.38zM2243.8 663.69h7.38v72.32h-7.38zM2251.01 685.34h7.38v57.89h-7.38zM2258.23 678.12h7.38v65.1h-7.38zM2265.44 685.34h7.38v50.67h-7.38zM2272.66 678.12h7.38v50.67h-7.38zM2279.88 663.69h7.38v79.54h-7.38zM2287.09 678.12h7.38v57.89h-7.38zM2294.31 678.12h7.38v57.89h-7.38zM2301.52 685.34h7.38v43.46h-7.38zM2308.74 685.34h7.38v57.89h-7.38zM2315.96 685.34h7.38v65.1h-7.38zM2323.17 663.69h7.38v72.32h-7.38zM2330.39 692.55h7.38v43.46h-7.38zM2337.6 685.34h7.38v50.67h-7.38z" fill="#02b6ba"/>
<path d="M2301.52 577.1h7.38v7.38h-7.38zM2308.74 569.88h7.38v21.81h-7.38zM2315.96 562.66h7.38v36.24h-7.38zM2323.17 555.45h7.38v50.67h-7.38zM2330.39 577.1h7.38v7.38h-7.38zM2337.6 577.1h7.38v7.38h-7.38zM2344.82 577.1h7.38v7.38h-7.38z" fill="#02b6ba"/>
<path d="M576.9 288.46h7.38v137.26h-7.38zM605.76 288.46h7.38v137.26h-7.38zM620.2 288.46h7.38v137.26h-7.38zM649.06 288.46h7.38v137.26h-7.38zM735.65 288.46h7.38v137.26h-7.38zM750.08 288.46h7.38v137.26h-7.38zM764.52 288.46h7.38v137.26h-7.38zM800.6 288.46h7.38v137.26h-7.38zM815.03 288.46h7.38v137.26h-7.38zM829.46 288.46h7.38v137.26h-7.38zM872.76 288.46h7.38v137.26h-7.38zM995.43 288.46h7.38v137.26h-7.38zM1067.59 288.46h7.38v137.26h-7.38zM1146.96 288.46h7.38v137.26h-7.38zM1175.83 288.46h7.38v137.26h-7.38zM1204.69 288.46h7.38v137.26h-7.38zM1219.12 288.46h7.38v137.26h-7.38zM1233.56 288.46h7.38v137.26h-7.38zM1247.99 288.46h7.38v137.26h-7.38zM1269.64 288.46h7.38v137.26h-7.38zM1298.5 288.46h7.38v137.26h-7.38zM1312.93 288.46h7.38v137.26h-7.38zM1341.8 288.46h7.38v137.26h-7.38zM1421.17 288.46h7.38v137.26h-7.38zM1464.47 288.46h7.38v137.26h-7.38zM1478.9 288.46h7.38v137.26h-7.38zM1493.33 288.46h7.38v137.26h-7.38zM1522.2 288.46h7.38v137.26h-7.38zM1536.63 288.46h7.38v137.26h-7.38zM1572.71 288.46h7.38v137.26h-7.38zM1587.14 288.46h7.38v137.26h-7.38zM1601.57 288.46h7.38v137.26h-7.38zM1616 288.46h7.38v137.26h-7.38zM1644.87 288.46h7.38v137.26h-7.38zM1724.24 288.46h7.38v137.26h-7.38zM1738.68 288.46h7.38v137.26h-7.38zM1767.54 288.46h7.38v137.26h-7.38zM1796.4 288.46h7.38v137.26h-7.38zM1861.35 288.46h7.38v137.26h-7.38zM1890.21 288.46h7.38v137.26h-7.38zM1976.8 288.46h7.38v137.26h-7.38zM1991.24 288.46h7.38v137.26h-7.38zM2005.67 288.46h7.38v137.26h-7.38zM2020.1 288.46h7.38v137.26h-7.38zM2034.53 288.46h7.38v137.26h-7.38zM2070.61 288.46h7.38v137.26h-7.38zM2113.91 288.46h7.38v137.26h-7.38zM2171.64 288.46h7.38v137.26h-7.38zM2207.72 288.46h7.38v137.26h-7.38zM2222.15 288.46h7.38v137.26h-7.38zM2236.58 288.46h7.38v137.26h-7.38zM2308.74 288.46h7.38v137.26h-7.38zM2323.17 288.46h7.38v137.26h-7.38z" fill="#fffad2"/>
<path id="p1" d="M540.82 288.46h7.38v137.26h-7.38zM548.04 288.46h7.38v137.26h-7.38zM555.25 411.13h7.38v14.59h-7.38zM562.47 411.13h7.38v14.59h-7.38zM569.68 288.46h7.38v137.26h-7.38zM576.9 411.13h7.38v43.46h-7.38zM584.12 281.24h7.38v144.48h-7.38zM591.33 295.67h7.38v158.91h-7.38zM598.55 281.24h7.38v144.48h-7.38zM605.76 288.46h7.38v14.59h-7.38zM605.76 411.13h7.38v14.59h-7.38zM612.98 288.46h7.38v137.26h-7.38zM620.2 411.13h7.38v14.59h-7.38zM627.41 288.46h7.38v137.26h-7.38zM634.63 281.24h7.38v173.34h-7.38zM641.84 288.46h7.38v137.26h-7.38zM649.06 288.46h7.38v14.59h-7.38zM649.06 411.13h7.38v14.59h-7.38zM656.28 288.46h7.38v137.26h-7.38zM663.49 288.46h7.38v137.26h-7.38zM670.71 288.46h7.38v137.26h-7.38zM677.92 288.46h7.38v137.26h-7.38zM685.14 288.46h7.38v14.59h-7.38zM692.36 288.46h7.38v14.59h-7.38zM699.57 281.24h7.38v21.81h-7.38zM706.79 288.46h7.38v14.59h-7.38zM714 288.46h7.38v14.59h-7.38zM721.22 288.46h7.38v14.59h-7.38zM728.44 288.46h7.38v166.13h-7.38zM735.65 288.46h7.38v14.59h-7.38zM735.65 411.13h7.38v14.59h-7.38zM742.87 259.59h7.38v166.13h-7.38zM750.08 288.46h7.38v14.59h-7.38zM750.08 411.13h7.38v14.59h-7.38zM757.3 288.46h7.38v151.7h-7.38zM764.52 288.46h7.38v14.59h-7.38zM764.52 411.13h7.38v14.59h-7.38zM771.73 266.81h7.38v158.91h-7.38zM778.95 281.24h7.38v21.81h-7.38zM778.95 411.13h7.38v14.59h-7.38zM786.16 288.46h7.38v14.59h-7.38zM786.16 411.13h7.38v14.59h-7.38zM793.38 288.46h7.38v166.13h-7.38zM800.6 288.46h7.38v14.59h-7.38zM800.6 411.13h7.38v14.59h-7.38zM807.81 259.59h7.38v166.13h-7.38zM815.03 281.24h7.38v21.81h-7.38zM815.03 411.13h7.38v14.59h-7.38zM822.24 288.46h7.38v137.26h-7.38zM829.46 288.46h7.38v14.59h-7.38zM829.46 411.13h7.38v14.59h-7.38zM836.68 266.81h7.38v158.91h-7.38zM843.89 288.46h7.38v14.59h-7.38zM843.89 411.13h7.38v14.59h-7.38zM851.11 288.46h7.38v14.59h-7.38zM851.11 411.13h7.38v14.59h-7.38zM858.32 288.46h7.38v14.59h-7.38zM858.32 411.13h7.38v14.59h-7.38zM865.54 288.46h7.38v166.13h-7.38zM872.76 288.46h7.38v14.59h-7.38zM872.76 411.13h7.38v14.59h-7.38zM879.97 266.81h7.38v158.91h-7.38zM887.19 288.46h7.38v14.59h-7.38zM894.4 288.46h7.38v14.59h-7.38zM901.62 288.46h7.38v14.59h-7.38zM908.84 288.46h7.38v14.59h-7.38zM916.05 288.46h7.38v14.59h-7.38zM923.27 288.46h7.38v158.91h-7.38zM930.48 288.46h7.38v14.59h-7.38zM930.48 411.13h7.38v14.59h-7.38zM937.7 288.46h7.38v14.59h-7.38zM937.7 411.13h7.38v14.59h-7.38zM944.92 259.59h7.38v166.13h-7.38zM952.13 288.46h7.38v137.26h-7.38zM959.35 288.46h7.38v137.26h-7.38zM966.56 281.24h7.38v144.48h-7.38zM973.78 288.46h7.38v137.26h-7.38zM981 288.46h7.38v137.26h-7.38zM988.21 288.46h7.38v137.26h-7.38zM995.43 288.46h7.38v14.59h-7.38zM995.43 411.13h7.38v14.59h-7.38zM1002.64 288.46h7.38v158.91h-7.38zM1009.86 288.46h7.38v137.26h-7.38zM1017.08 288.46h7.38v166.13h-7.38zM1024.29 288.46h7.38v137.26h-7.38zM1031.51 288.46h7.38v158.91h-7.38zM1038.72 288.46h7.38v137.26h-7.38zM1045.94 288.46h7.38v151.7h-7.38zM1053.16 288.46h7.38v137.26h-7.38zM1060.37 281.24h7.38v180.56h-7.38zM1067.59 288.46h7.38v14.59h-7.38zM1067.59 411.13h7.38v14.59h-7.38zM1074.8 288.46h7.38v137.26h-7.38zM1082.02 281.24h7.38v21.81h-7.38zM1089.24 288.46h7.38v14.59h-7.38zM1096.45 288.46h7.38v158.91h-7.38zM1103.67 288.46h7.38v137.26h-7.38zM1110.88 288.46h7.38v158.91h-7.38zM1118.1 288.46h7.38v137.26h-7.38zM1125.32 288.46h7.38v166.13h-7.38zM1132.53 288.46h7.38v137.26h-7.38zM1139.75 288.46h7.38v158.91h-7.38zM1146.96 288.46h7.38v14.59h-7.38zM1146.96 411.13h7.38v14.59h-7.38zM1154.18 288.46h7.38v137.26h-7.38zM1161.4 288.46h7.38v137.26h-7.38zM1168.61 281.24h7.38v144.48h-7.38zM1175.83 281.24h7.38v21.81h-7.38zM1175.83 411.13h7.38v14.59h-7.38zM1183.04 288.46h7.38v158.91h-7.38zM1190.26 288.46h7.38v137.26h-7.38zM1197.48 288.46h7.38v158.91h-7.38zM1204.69 288.46h7.38v14.59h-7.38zM1204.69 411.13h7.38v14.59h-7.38zM1211.91 288.46h7.38v137.26h-7.38zM1219.12 281.24h7.38v21.81h-7.38zM1219.12 411.13h7.38v14.59h-7.38zM1226.34 288.46h7.38v173.34h-7.38zM1233.56 288.46h7.38v14.59h-7.38zM1233.56 411.13h7.38v14.59h-7.38zM1240.77 288.46h7.38v137.26h-7.38zM1247.99 288.46h7.38v14.59h-7.38zM1247.99 411.13h7.38v43.46h-7.38zM1255.2 288.46h7.38v137.26h-7.38zM1262.42 288.46h7.38v158.91h-7.38zM1269.64 288.46h7.38v14.59h-7.38zM1269.64 411.13h7.38v14.59h-7.38zM1276.85 288.46h7.38v137.26h-7.38zM1284.07 288.46h7.38v137.26h-7.38zM1291.28 288.46h7.38v137.26h-7.38zM1298.5 288.46h7.38v14.59h-7.38zM1298.5 411.13h7.38v14.59h-7.38zM1305.72 288.46h7.38v158.91h-7.38zM1312.93 288.46h7.38v14.59h-7.38zM1312.93 411.13h7.38v14.59h-7.38zM1320.15 281.24h7.38v144.48h-7.38zM1327.36 288.46h7.38v137.26h-7.38zM1334.58 281.24h7.38v144.48h-7.38zM1341.8 281.24h7.38v21.81h-7.38zM1341.8 411.13h7.38v14.59h-7.38zM1349.01 288.46h7.38v166.13h-7.38zM1356.23 288.46h7.38v137.26h-7.38zM1363.44 288.46h7.38v158.91h-7.38zM1370.66 288.46h7.38v137.26h-7.38zM1377.88 288.46h7.38v158.91h-7.38zM1385.09 281.24h7.38v21.81h-7.38zM1385.09 411.13h7.38v14.59h-7.38zM1392.31 288.46h7.38v14.59h-7.38zM1392.31 411.13h7.38v14.59h-7.38zM1399.52 288.46h7.38v137.26h-7.38zM1406.74 288.46h7.38v137.26h-7.38zM1413.96 288.46h7.38v137.26h-7.38zM1421.17 288.46h7.38v14.59h-7.38zM1421.17 411.13h7.38v14.59h-7.38zM1428.39 288.46h7.38v158.91h-7.38zM1435.6 288.46h7.38v137.26h-7.38zM1442.82 288.46h7.38v158.91h-7.38zM1450.04 281.24h7.38v144.48h-7.38zM1457.25 288.46h7.38v166.13h-7.38zM1464.47 411.13h7.38v14.59h-7.38zM1471.68 288.46h7.38v137.26h-7.38zM1478.9 288.46h7.38v14.59h-7.38zM1486.12 288.46h7.38v166.13h-7.38zM1493.33 411.13h7.38v14.59h-7.38zM1500.55 288.46h7.38v137.26h-7.38zM1507.76 281.24h7.38v144.48h-7.38zM1514.98 281.24h7.38v144.48h-7.38zM1522.2 288.46h7.38v14.59h-7.38zM1529.41 288.46h7.38v166.13h-7.38zM1536.63 411.13h7.38v14.59h-7.38zM1543.84 288.46h7.38v137.26h-7.38zM1551.06 411.13h7.38v43.46h-7.38zM1558.28 411.13h7.38v14.59h-7.38zM1565.49 288.46h7.38v137.26h-7.38zM1572.71 288.46h7.38v14.59h-7.38zM1579.92 288.46h7.38v166.13h-7.38zM1587.14 411.13h7.38v14.59h-7.38zM1594.36 281.24h7.38v144.48h-7.38zM1601.57 288.46h7.38v14.59h-7.38zM1608.79 288.46h7.38v166.13h-7.38zM1616 411.13h7.38v14.59h-7.38zM1623.22 288.46h7.38v137.26h-7.38zM1630.44 288.46h7.38v137.26h-7.38zM1637.65 288.46h7.38v137.26h-7.38zM1644.87 288.46h7.38v14.59h-7.38zM1652.08 288.46h7.38v166.13h-7.38zM1659.3 288.46h7.38v137.26h-7.38zM1666.52 288.46h7.38v158.91h-7.38zM1673.73 288.46h7.38v137.26h-7.38zM1680.95 288.46h7.38v158.91h-7.38zM1688.16 411.13h7.38v14.59h-7.38zM1695.38 411.13h7.38v14.59h-7.38zM1702.6 281.24h7.38v144.48h-7.38zM1709.81 288.46h7.38v137.26h-7.38zM1717.03 288.46h7.38v137.26h-7.38zM1724.24 288.46h7.38v14.59h-7.38zM1731.46 288.46h7.38v158.91h-7.38zM1738.68 411.13h7.38v14.59h-7.38zM1745.89 281.24h7.38v144.48h-7.38zM1753.11 281.24h7.38v144.48h-7.38zM1760.32 288.46h7.38v137.26h-7.38zM1767.54 288.46h7.38v14.59h-7.38zM1774.76 288.46h7.38v173.34h-7.38zM1781.97 281.24h7.38v144.48h-7.38zM1789.19 288.46h7.38v166.13h-7.38zM1796.4 411.13h7.38v14.59h-7.38zM1803.62 288.46h7.38v137.26h-7.38zM1810.84 288.46h7.38v137.26h-7.38zM1818.05 288.46h7.38v137.26h-7.38zM1825.27 281.24h7.38v144.48h-7.38zM1832.48 288.46h7.38v137.26h-7.38zM1839.7 288.46h7.38v14.59h-7.38zM1846.92 288.46h7.38v14.59h-7.38zM1854.13 288.46h7.38v166.13h-7.38zM1861.35 411.13h7.38v14.59h-7.38zM1868.56 288.46h7.38v137.26h-7.38zM1875.78 281.24h7.38v144.48h-7.38zM1883 288.46h7.38v137.26h-7.38zM1890.21 288.46h7.38v14.59h-7.38zM1897.43 288.46h7.38v158.91h-7.38zM1904.64 281.24h7.38v144.48h-7.38zM1911.86 288.46h7.38v166.13h-7.38zM1919.08 288.46h7.38v14.59h-7.38zM1926.29 288.46h7.38v14.59h-7.38zM1933.51 288.46h7.38v14.59h-7.38zM1940.72 288.46h7.38v14.59h-7.38zM1947.94 288.46h7.38v14.59h-7.38zM1955.16 288.46h7.38v14.59h-7.38zM1962.37 288.46h7.38v14.59h-7.38zM1969.59 288.46h7.38v137.26h-7.38zM1976.8 411.13h7.38v14.59h-7.38zM1984.02 288.46h7.38v137.26h-7.38zM1991.24 288.46h7.38v14.59h-7.38zM1998.45 288.46h7.38v137.26h-7.38zM2005.67 411.13h7.38v14.59h-7.38zM2012.88 288.46h7.38v144.48h-7.38zM2020.1 288.46h7.38v14.59h-7.38zM2027.32 288.46h7.38v137.26h-7.38zM2034.53 411.13h7.38v14.59h-7.38zM2041.75 288.46h7.38v137.26h-7.38zM2048.96 288.46h7.38v14.59h-7.38zM2056.18 288.46h7.38v14.59h-7.38zM2063.4 288.46h7.38v144.48h-7.38zM2070.61 411.13h7.38v14.59h-7.38zM2077.83 288.46h7.38v137.26h-7.38zM2085.04 288.46h7.38v14.59h-7.38zM2092.26 288.46h7.38v14.59h-7.38zM2099.48 288.46h7.38v14.59h-7.38zM2106.69 288.46h7.38v144.48h-7.38zM2113.91 411.13h7.38v14.59h-7.38zM2121.12 288.46h7.38v144.48h-7.38zM2128.34 281.24h7.38v21.81h-7.38zM2135.56 288.46h7.38v14.59h-7.38zM2142.77 288.46h7.38v14.59h-7.38zM2149.99 281.24h7.38v21.81h-7.38zM2157.2 288.46h7.38v14.59h-7.38zM2164.42 288.46h7.38v137.26h-7.38zM2171.64 411.13h7.38v14.59h-7.38zM2178.85 288.46h7.38v144.48h-7.38zM2186.07 281.24h7.38v144.48h-7.38zM2193.28 310.1h7.38v115.62h-7.38zM2200.5 281.24h7.38v151.7h-7.38zM2207.72 411.13h7.38v14.59h-7.38zM2214.93 288.46h7.38v144.48h-7.38zM2222.15 411.13h7.38v14.59h-7.38zM2229.36 288.46h7.38v137.26h-7.38zM2236.58 288.46h7.38v14.59h-7.38zM2243.8 288.46h7.38v144.48h-7.38zM2251.01 281.24h7.38v144.48h-7.38zM2258.23 288.46h7.38v137.26h-7.38zM2265.44 288.46h7.38v137.26h-7.38zM2272.66 288.46h7.38v144.48h-7.38zM2279.88 281.24h7.38v144.48h-7.38zM2287.09 288.46h7.38v137.26h-7.38zM2294.31 281.24h7.38v144.48h-7.38zM2301.52 288.46h7.38v144.48h-7.38zM2308.74 411.13h7.38v14.59h-7.38zM2315.96 288.46h7.38v144.48h-7.38zM2323.17 288.46h7.38v14.59h-7.38zM2330.39 288.46h7.38v137.26h-7.38zM2337.6 288.46h7.38v137.26h-7.38z" fill="#ffa204"/>
<path d="M548.04 865.74h7.38v173.34h-7.38zM562.47 865.74h7.38v173.34h-7.38zM605.76 865.74h7.38v173.34h-7.38zM620.2 865.74h7.38v173.34h-7.38zM649.06 865.74h7.38v173.34h-7.38zM735.65 865.74h7.38v173.34h-7.38zM750.08 865.74h7.38v173.34h-7.38zM786.16 865.74h7.38v173.34h-7.38zM800.6 865.74h7.38v173.34h-7.38zM815.03 865.74h7.38v173.34h-7.38zM829.46 865.74h7.38v173.34h-7.38zM872.76 865.74h7.38v173.34h-7.38zM937.7 865.74h7.38v173.34h-7.38zM995.43 865.74h7.38v173.34h-7.38zM1089.24 865.74h7.38v173.34h-7.38zM1146.96 865.74h7.38v173.34h-7.38zM1175.83 865.74h7.38v173.34h-7.38zM1204.69 865.74h7.38v173.34h-7.38zM1269.64 865.74h7.38v173.34h-7.38zM1298.5 865.74h7.38v173.34h-7.38zM1312.93 865.74h7.38v173.34h-7.38zM1341.8 865.74h7.38v173.34h-7.38zM1370.66 865.74h7.38v173.34h-7.38zM1421.17 865.74h7.38v173.34h-7.38zM1464.47 865.74h7.38v173.34h-7.38zM1478.9 865.74h7.38v173.34h-7.38zM1493.33 865.74h7.38v173.34h-7.38zM1558.28 865.74h7.38v173.34h-7.38zM1572.71 865.74h7.38v173.34h-7.38zM1587.14 865.74h7.38v173.34h-7.38zM1601.57 865.74h7.38v173.34h-7.38zM1616 865.74h7.38v173.34h-7.38zM1644.87 865.74h7.38v173.34h-7.38zM1673.73 865.74h7.38v173.34h-7.38zM1724.24 865.74h7.38v173.34h-7.38zM1738.68 865.74h7.38v173.34h-7.38zM1767.54 865.74h7.38v173.34h-7.38zM1796.4 865.74h7.38v173.34h-7.38zM1825.27 865.74h7.38v173.34h-7.38zM1861.35 865.74h7.38v173.34h-7.38zM1890.21 865.74h7.38v173.34h-7.38zM1976.8 865.74h7.38v173.34h-7.38zM1991.24 865.74h7.38v173.34h-7.38zM2005.67 865.74h7.38v173.34h-7.38zM2020.1 865.74h7.38v173.34h-7.38zM2056.18 865.74h7.38v173.34h-7.38zM2070.61 865.74h7.38v173.34h-7.38zM2113.91 865.74h7.38v173.34h-7.38zM2171.64 865.74h7.38v173.34h-7.38zM2193.28 865.74h7.38v173.34h-7.38zM2207.72 865.74h7.38v173.34h-7.38zM2236.58 865.74h7.38v173.34h-7.38zM2308.74 865.74h7.38v173.34h-7.38zM2323.17 865.74h7.38v173.34h-7.38z" fill="#ffe6fb"/>
<path id="p3" d="M540.82 865.74h7.38v173.34h-7.38zM548.04 865.74h7.38v14.59h-7.38zM555.25 865.74h7.38v173.34h-7.38zM562.47 1024.49h7.38v14.59h-7.38zM569.68 865.74h7.38v173.34h-7.38zM576.9 865.74h7.38v173.34h-7.38zM584.12 865.74h7.38v180.56h-7.38zM591.33 865.74h7.38v180.56h-7.38zM598.55 865.74h7.38v173.34h-7.38zM605.76 858.52h7.38v21.81h-7.38zM612.98 865.74h7.38v173.34h-7.38zM620.2 1024.49h7.38v14.59h-7.38zM627.41 858.52h7.38v180.56h-7.38zM634.63 865.74h7.38v173.34h-7.38zM641.84 865.74h7.38v173.34h-7.38zM649.06 865.74h7.38v14.59h-7.38zM656.28 872.95h7.38v166.13h-7.38zM663.49 865.74h7.38v173.34h-7.38zM670.71 865.74h7.38v180.56h-7.38zM677.92 865.74h7.38v173.34h-7.38zM685.14 865.74h7.38v14.59h-7.38zM692.36 865.74h7.38v14.59h-7.38zM699.57 865.74h7.38v14.59h-7.38zM706.79 865.74h7.38v14.59h-7.38zM714 865.74h7.38v14.59h-7.38zM721.22 865.74h7.38v14.59h-7.38zM728.44 865.74h7.38v173.34h-7.38zM735.65 1024.49h7.38v21.81h-7.38zM742.87 865.74h7.38v173.34h-7.38zM750.08 865.74h7.38v14.59h-7.38zM757.3 865.74h7.38v173.34h-7.38zM764.52 1024.49h7.38v21.81h-7.38zM771.73 1024.49h7.38v14.59h-7.38zM778.95 858.52h7.38v180.56h-7.38zM786.16 858.52h7.38v21.81h-7.38zM793.38 865.74h7.38v173.34h-7.38zM800.6 1024.49h7.38v21.81h-7.38zM807.81 865.74h7.38v173.34h-7.38zM815.03 865.74h7.38v14.59h-7.38zM822.24 865.74h7.38v173.34h-7.38zM829.46 1024.49h7.38v21.81h-7.38zM836.68 865.74h7.38v173.34h-7.38zM843.89 865.74h7.38v14.59h-7.38zM851.11 865.74h7.38v14.59h-7.38zM858.32 865.74h7.38v14.59h-7.38zM865.54 865.74h7.38v173.34h-7.38zM872.76 1024.49h7.38v14.59h-7.38zM879.97 865.74h7.38v173.34h-7.38zM887.19 865.74h7.38v14.59h-7.38zM894.4 865.74h7.38v14.59h-7.38zM901.62 865.74h7.38v14.59h-7.38zM908.84 865.74h7.38v14.59h-7.38zM916.05 865.74h7.38v14.59h-7.38zM923.27 865.74h7.38v14.59h-7.38zM930.48 865.74h7.38v173.34h-7.38zM937.7 1024.49h7.38v14.59h-7.38zM944.92 865.74h7.38v173.34h-7.38zM952.13 865.74h7.38v180.56h-7.38zM959.35 865.74h7.38v173.34h-7.38zM966.56 865.74h7.38v173.34h-7.38zM973.78 865.74h7.38v173.34h-7.38zM981 865.74h7.38v173.34h-7.38zM988.21 865.74h7.38v173.34h-7.38zM995.43 865.74h7.38v14.59h-7.38zM1002.64 865.74h7.38v173.34h-7.38zM1009.86 865.74h7.38v173.34h-7.38zM1017.08 865.74h7.38v180.56h-7.38zM1024.29 865.74h7.38v173.34h-7.38zM1031.51 865.74h7.38v173.34h-7.38zM1038.72 872.95h7.38v166.13h-7.38zM1045.94 865.74h7.38v173.34h-7.38zM1053.16 865.74h7.38v173.34h-7.38zM1060.37 865.74h7.38v173.34h-7.38zM1067.59 1024.49h7.38v14.59h-7.38zM1074.8 1024.49h7.38v14.59h-7.38zM1082.02 865.74h7.38v173.34h-7.38zM1089.24 865.74h7.38v14.59h-7.38zM1096.45 865.74h7.38v173.34h-7.38zM1103.67 865.74h7.38v180.56h-7.38zM1110.88 865.74h7.38v173.34h-7.38zM1118.1 865.74h7.38v173.34h-7.38zM1125.32 865.74h7.38v180.56h-7.38zM1132.53 865.74h7.38v173.34h-7.38zM1139.75 858.52h7.38v180.56h-7.38zM1146.96 1024.49h7.38v14.59h-7.38zM1154.18 865.74h7.38v173.34h-7.38zM1161.4 865.74h7.38v173.34h-7.38zM1168.61 865.74h7.38v173.34h-7.38zM1175.83 865.74h7.38v14.59h-7.38zM1183.04 865.74h7.38v173.34h-7.38zM1190.26 865.74h7.38v173.34h-7.38zM1197.48 865.74h7.38v173.34h-7.38zM1204.69 1024.49h7.38v14.59h-7.38zM1211.91 865.74h7.38v173.34h-7.38zM1219.12 865.74h7.38v14.59h-7.38zM1226.34 865.74h7.38v14.59h-7.38zM1233.56 865.74h7.38v173.34h-7.38zM1240.77 865.74h7.38v180.56h-7.38zM1247.99 865.74h7.38v173.34h-7.38zM1255.2 865.74h7.38v180.56h-7.38zM1262.42 865.74h7.38v173.34h-7.38zM1269.64 1024.49h7.38v14.59h-7.38zM1276.85 865.74h7.38v173.34h-7.38zM1284.07 865.74h7.38v173.34h-7.38zM1291.28 865.74h7.38v173.34h-7.38zM1298.5 865.74h7.38v14.59h-7.38zM1305.72 865.74h7.38v173.34h-7.38zM1312.93 1024.49h7.38v14.59h-7.38zM1320.15 865.74h7.38v173.34h-7.38zM1327.36 865.74h7.38v173.34h-7.38zM1334.58 865.74h7.38v173.34h-7.38zM1341.8 865.74h7.38v14.59h-7.38zM1349.01 865.74h7.38v173.34h-7.38zM1356.23 865.74h7.38v173.34h-7.38zM1363.44 865.74h7.38v173.34h-7.38zM1370.66 1024.49h7.38v14.59h-7.38zM1377.88 865.74h7.38v180.56h-7.38zM1385.09 1024.49h7.38v14.59h-7.38zM1392.31 1024.49h7.38v14.59h-7.38zM1399.52 865.74h7.38v173.34h-7.38zM1406.74 872.95h7.38v166.13h-7.38zM1413.96 865.74h7.38v173.34h-7.38zM1421.17 865.74h7.38v14.59h-7.38zM1428.39 865.74h7.38v173.34h-7.38zM1435.6 865.74h7.38v173.34h-7.38zM1442.82 865.74h7.38v173.34h-7.38zM1450.04 865.74h7.38v173.34h-7.38zM1457.25 858.52h7.38v180.56h-7.38zM1464.47 1024.49h7.38v14.59h-7.38zM1471.68 865.74h7.38v173.34h-7.38zM1478.9 865.74h7.38v14.59h-7.38zM1486.12 865.74h7.38v173.34h-7.38zM1493.33 1024.49h7.38v14.59h-7.38zM1500.55 865.74h7.38v180.56h-7.38zM1507.76 865.74h7.38v173.34h-7.38zM1514.98 865.74h7.38v173.34h-7.38zM1522.2 858.52h7.38v21.81h-7.38zM1529.41 858.52h7.38v21.81h-7.38zM1536.63 865.74h7.38v173.34h-7.38zM1543.84 865.74h7.38v180.56h-7.38zM1551.06 865.74h7.38v173.34h-7.38zM1558.28 1024.49h7.38v14.59h-7.38zM1565.49 865.74h7.38v180.56h-7.38zM1572.71 858.52h7.38v21.81h-7.38zM1579.92 865.74h7.38v173.34h-7.38zM1587.14 1024.49h7.38v14.59h-7.38zM1594.36 858.52h7.38v180.56h-7.38zM1601.57 865.74h7.38v14.59h-7.38zM1608.79 865.74h7.38v173.34h-7.38zM1616 1024.49h7.38v14.59h-7.38zM1623.22 865.74h7.38v173.34h-7.38zM1630.44 865.74h7.38v180.56h-7.38zM1637.65 865.74h7.38v180.56h-7.38zM1644.87 865.74h7.38v14.59h-7.38zM1652.08 865.74h7.38v173.34h-7.38zM1659.3 865.74h7.38v173.34h-7.38zM1666.52 858.52h7.38v180.56h-7.38zM1673.73 1024.49h7.38v14.59h-7.38zM1680.95 865.74h7.38v173.34h-7.38zM1688.16 1024.49h7.38v14.59h-7.38zM1695.38 1024.49h7.38v14.59h-7.38zM1702.6 865.74h7.38v173.34h-7.38zM1709.81 865.74h7.38v180.56h-7.38zM1717.03 858.52h7.38v180.56h-7.38zM1724.24 865.74h7.38v14.59h-7.38zM1731.46 865.74h7.38v173.34h-7.38zM1738.68 1024.49h7.38v14.59h-7.38zM1745.89 865.74h7.38v173.34h-7.38zM1753.11 865.74h7.38v173.34h-7.38zM1760.32 865.74h7.38v173.34h-7.38zM1767.54 865.74h7.38v14.59h-7.38zM1774.76 865.74h7.38v173.34h-7.38zM1781.97 865.74h7.38v180.56h-7.38zM1789.19 865.74h7.38v173.34h-7.38zM1796.4 1024.49h7.38v14.59h-7.38zM1803.62 865.74h7.38v173.34h-7.38zM1810.84 858.52h7.38v180.56h-7.38zM1818.05 865.74h7.38v180.56h-7.38zM1825.27 865.74h7.38v14.59h-7.38zM1832.48 858.52h7.38v187.78h-7.38zM1839.7 865.74h7.38v14.59h-7.38zM1846.92 865.74h7.38v14.59h-7.38zM1854.13 865.74h7.38v173.34h-7.38zM1861.35 1024.49h7.38v14.59h-7.38zM1868.56 858.52h7.38v180.56h-7.38zM1875.78 865.74h7.38v173.34h-7.38zM1883 865.74h7.38v173.34h-7.38zM1890.21 865.74h7.38v14.59h-7.38zM1897.43 865.74h7.38v173.34h-7.38zM1904.64 865.74h7.38v173.34h-7.38zM1911.86 865.74h7.38v173.34h-7.38zM1919.08 865.74h7.38v14.59h-7.38zM1926.29 865.74h7.38v14.59h-7.38zM1933.51 865.74h7.38v14.59h-7.38zM1940.72 865.74h7.38v14.59h-7.38zM1947.94 865.74h7.38v14.59h-7.38zM1955.16 865.74h7.38v14.59h-7.38zM1962.37 865.74h7.38v14.59h-7.38zM1969.59 865.74h7.38v173.34h-7.38zM1976.8 1024.49h7.38v14.59h-7.38zM1984.02 865.74h7.38v173.34h-7.38zM1991.24 865.74h7.38v14.59h-7.38zM1998.45 865.74h7.38v173.34h-7.38zM2005.67 1024.49h7.38v14.59h-7.38zM2012.88 865.74h7.38v173.34h-7.38zM2020.1 865.74h7.38v14.59h-7.38zM2027.32 865.74h7.38v173.34h-7.38zM2034.53 1024.49h7.38v14.59h-7.38zM2041.75 1024.49h7.38v14.59h-7.38zM2048.96 865.74h7.38v173.34h-7.38zM2056.18 865.74h7.38v14.59h-7.38zM2063.4 865.74h7.38v173.34h-7.38zM2070.61 1024.49h7.38v14.59h-7.38zM2077.83 865.74h7.38v173.34h-7.38zM2085.04 865.74h7.38v14.59h-7.38zM2092.26 865.74h7.38v14.59h-7.38zM2099.48 865.74h7.38v14.59h-7.38zM2106.69 865.74h7.38v173.34h-7.38zM2113.91 1024.49h7.38v21.81h-7.38zM2121.12 865.74h7.38v180.56h-7.38zM2128.34 865.74h7.38v14.59h-7.38zM2135.56 865.74h7.38v14.59h-7.38zM2142.77 858.52h7.38v21.81h-7.38zM2149.99 865.74h7.38v14.59h-7.38zM2157.2 865.74h7.38v14.59h-7.38zM2164.42 865.74h7.38v173.34h-7.38zM2171.64 1024.49h7.38v14.59h-7.38zM2178.85 865.74h7.38v173.34h-7.38zM2186.07 865.74h7.38v173.34h-7.38zM2193.28 1024.49h7.38v14.59h-7.38zM2200.5 865.74h7.38v173.34h-7.38zM2207.72 1024.49h7.38v14.59h-7.38zM2214.93 858.52h7.38v180.56h-7.38zM2222.15 865.74h7.38v180.56h-7.38zM2229.36 865.74h7.38v173.34h-7.38zM2236.58 865.74h7.38v14.59h-7.38zM2243.8 865.74h7.38v173.34h-7.38zM2251.01 865.74h7.38v173.34h-7.38zM2258.23 865.74h7.38v173.34h-7.38zM2265.44 865.74h7.38v180.56h-7.38zM2272.66 865.74h7.38v173.34h-7.38zM2279.88 865.74h7.38v173.34h-7.38zM2287.09 865.74h7.38v173.34h-7.38zM2294.31 858.52h7.38v180.56h-7.38zM2301.52 865.74h7.38v173.34h-7.38zM2308.74 1024.49h7.38v14.59h-7.38zM2315.96 865.74h7.38v173.34h-7.38zM2323.17 865.74h7.38v14.59h-7.38zM2330.39 865.74h7.38v173.34h-7.38zM2337.6 865.74h7.38v180.56h-7.38z" fill="#cd08b3"/>
<path d="M576.9 872.95h7.38v158.91h-7.38zM584.12 872.95h7.38v158.91h-7.38zM591.33 872.95h7.38v158.91h-7.38zM634.63 872.95h7.38v158.91h-7.38zM663.49 872.95h7.38v158.91h-7.38zM670.71 872.95h7.38v158.91h-7.38zM952.13 872.95h7.38v158.91h-7.38zM959.35 872.95h7.38v158.91h-7.38zM966.56 872.95h7.38v158.91h-7.38zM973.78 872.95h7.38v158.91h-7.38zM981 872.95h7.38v158.91h-7.38zM1009.86 872.95h7.38v158.91h-7.38zM1017.08 872.95h7.38v158.91h-7.38zM1024.29 872.95h7.38v158.91h-7.38zM1031.51 872.95h7.38v158.91h-7.38zM1038.72 872.95h7.38v158.91h-7.38zM1045.94 872.95h7.38v158.91h-7.38zM1053.16 872.95h7.38v158.91h-7.38zM1103.67 872.95h7.38v158.91h-7.38zM1110.88 872.95h7.38v158.91h-7.38zM1118.1 872.95h7.38v158.91h-7.38zM1125.32 872.95h7.38v158.91h-7.38zM1132.53 872.95h7.38v158.91h-7.38zM1161.4 872.95h7.38v158.91h-7.38zM1190.26 872.95h7.38v158.91h-7.38zM1240.77 872.95h7.38v158.91h-7.38zM1247.99 872.95h7.38v158.91h-7.38zM1255.2 872.95h7.38v158.91h-7.38zM1284.07 872.95h7.38v158.91h-7.38zM1327.36 872.95h7.38v158.91h-7.38zM1356.23 872.95h7.38v158.91h-7.38zM1406.74 872.95h7.38v158.91h-7.38zM1435.6 872.95h7.38v158.91h-7.38zM1442.82 872.95h7.38v158.91h-7.38zM1450.04 872.95h7.38v158.91h-7.38zM1507.76 872.95h7.38v158.91h-7.38zM1543.84 872.95h7.38v158.91h-7.38zM1630.44 872.95h7.38v158.91h-7.38zM1659.3 872.95h7.38v158.91h-7.38zM1709.81 872.95h7.38v158.91h-7.38zM1753.11 872.95h7.38v158.91h-7.38zM1781.97 872.95h7.38v158.91h-7.38zM1810.84 872.95h7.38v158.91h-7.38zM1875.78 872.95h7.38v158.91h-7.38zM1904.64 872.95h7.38v158.91h-7.38zM2222.15 872.95h7.38v158.91h-7.38zM2251.01 872.95h7.38v158.91h-7.38zM2258.23 872.95h7.38v158.91h-7.38zM2265.44 872.95h7.38v158.91h-7.38zM2272.66 872.95h7.38v158.91h-7.38zM2279.88 872.95h7.38v158.91h-7.38zM2287.09 872.95h7.38v158.91h-7.38zM2294.31 872.95h7.38v158.91h-7.38z" fill="#dd00c1"/>
<clipPath id="c1"><use href="#p1"/></clipPath>
<clipPath id="c3"><use href="#p3"/></clipPath>
<clipPath id="c1r"><rect x="562.55" y="302.97" width="1767.92" height="108.24"/></clipPath>
<clipPath id="c3r"><rect x="562.55" y="880.25" width="1767.92" height="144.32"/></clipPath>
<g clip-path="url(#c1r)"><use href="#grat" fill="#fff" opacity="0.3" clip-path="url(#c1)"/></g>
<g clip-path="url(#c3r)"><use href="#grat" fill="#ffc8fb" opacity="0.8" clip-path="url(#c3)"/></g>
<path d="M540.82 1392.5h7.38v14.59h-7.38zM548.04 1385.29h7.38v21.81h-7.38zM555.25 1392.5h7.38v14.59h-7.38zM562.47 1385.29h7.38v21.81h-7.38zM569.68 1392.5h7.38v14.59h-7.38zM576.9 1392.5h7.38v14.59h-7.38zM584.12 1385.29h7.38v21.81h-7.38zM591.33 1392.5h7.38v14.59h-7.38zM598.55 1385.29h7.38v21.81h-7.38zM605.76 1392.5h7.38v14.59h-7.38zM612.98 1385.29h7.38v21.81h-7.38zM620.2 1385.29h7.38v21.81h-7.38zM627.41 1392.5h7.38v14.59h-7.38zM634.63 1392.5h7.38v14.59h-7.38zM641.84 1385.29h7.38v21.81h-7.38zM649.06 1385.29h7.38v21.81h-7.38zM656.28 1392.5h7.38v14.59h-7.38zM663.49 1392.5h7.38v21.81h-7.38zM670.71 1392.5h7.38v14.59h-7.38zM677.92 1392.5h7.38v14.59h-7.38zM685.14 1392.5h7.38v21.81h-7.38zM692.36 1385.29h7.38v21.81h-7.38zM699.57 1269.83h7.38v14.59h-7.38zM699.57 1392.5h7.38v14.59h-7.38zM706.79 1269.83h7.38v137.26h-7.38zM714 1269.83h7.38v14.59h-7.38zM721.22 1269.83h7.38v14.59h-7.38zM728.44 1269.83h7.38v14.59h-7.38zM735.65 1269.83h7.38v14.59h-7.38zM742.87 1269.83h7.38v14.59h-7.38zM750.08 1269.83h7.38v14.59h-7.38zM757.3 1269.83h7.38v14.59h-7.38zM764.52 1269.83h7.38v14.59h-7.38zM771.73 1269.83h7.38v14.59h-7.38zM778.95 1262.62h7.38v21.81h-7.38zM786.16 1269.83h7.38v14.59h-7.38zM793.38 1269.83h7.38v14.59h-7.38zM800.6 1269.83h7.38v14.59h-7.38zM807.81 1269.83h7.38v14.59h-7.38zM815.03 1269.83h7.38v14.59h-7.38zM822.24 1269.83h7.38v14.59h-7.38zM829.46 1262.62h7.38v21.81h-7.38zM836.68 1269.83h7.38v14.59h-7.38zM843.89 1269.83h7.38v14.59h-7.38zM851.11 1269.83h7.38v14.59h-7.38zM858.32 1269.83h7.38v14.59h-7.38zM865.54 1269.83h7.38v14.59h-7.38zM872.76 1269.83h7.38v14.59h-7.38zM879.97 1262.62h7.38v21.81h-7.38zM887.19 1269.83h7.38v14.59h-7.38zM894.4 1269.83h7.38v14.59h-7.38zM901.62 1269.83h7.38v14.59h-7.38zM908.84 1269.83h7.38v14.59h-7.38zM916.05 1269.83h7.38v14.59h-7.38zM923.27 1269.83h7.38v14.59h-7.38zM930.48 1269.83h7.38v14.59h-7.38zM937.7 1269.83h7.38v14.59h-7.38zM944.92 1269.83h7.38v14.59h-7.38zM952.13 1269.83h7.38v14.59h-7.38zM959.35 1269.83h7.38v14.59h-7.38zM966.56 1269.83h7.38v137.26h-7.38zM973.78 1392.5h7.38v14.59h-7.38zM981 1392.5h7.38v14.59h-7.38zM988.21 1385.29h7.38v21.81h-7.38zM995.43 1385.29h7.38v21.81h-7.38zM1002.64 1392.5h7.38v14.59h-7.38zM1009.86 1392.5h7.38v14.59h-7.38zM1017.08 1385.29h7.38v21.81h-7.38zM1024.29 1392.5h7.38v14.59h-7.38zM1031.51 1392.5h7.38v14.59h-7.38zM1038.72 1392.5h7.38v14.59h-7.38zM1045.94 1392.5h7.38v14.59h-7.38zM1053.16 1385.29h7.38v21.81h-7.38zM1060.37 1385.29h7.38v21.81h-7.38zM1067.59 1385.29h7.38v21.81h-7.38zM1074.8 1392.5h7.38v14.59h-7.38zM1082.02 1392.5h7.38v14.59h-7.38zM1089.24 1392.5h7.38v14.59h-7.38zM1096.45 1392.5h7.38v14.59h-7.38zM1103.67 1392.5h7.38v14.59h-7.38zM1110.88 1392.5h7.38v14.59h-7.38zM1118.1 1392.5h7.38v14.59h-7.38zM1125.32 1392.5h7.38v14.59h-7.38zM1132.53 1385.29h7.38v21.81h-7.38zM1139.75 1392.5h7.38v14.59h-7.38zM1146.96 1392.5h7.38v14.59h-7.38zM1154.18 1392.5h7.38v14.59h-7.38zM1161.4 1392.5h7.38v14.59h-7.38zM1168.61 1392.5h7.38v14.59h-7.38zM1175.83 1392.5h7.38v21.81h-7.38zM1183.04 1385.29h7.38v21.81h-7.38zM1190.26 1392.5h7.38v14.59h-7.38zM1197.48 1392.5h7.38v14.59h-7.38zM1204.69 1385.29h7.38v21.81h-7.38zM1211.91 1392.5h7.38v14.59h-7.38zM1219.12 1385.29h7.38v21.81h-7.38zM1226.34 1392.5h7.38v14.59h-7.38zM1233.56 1392.5h7.38v14.59h-7.38zM1240.77 1392.5h7.38v14.59h-7.38zM1247.99 1392.5h7.38v14.59h-7.38zM1255.2 1392.5h7.38v14.59h-7.38zM1262.42 1392.5h7.38v14.59h-7.38zM1269.64 1392.5h7.38v14.59h-7.38zM1276.85 1392.5h7.38v14.59h-7.38zM1284.07 1392.5h7.38v14.59h-7.38zM1291.28 1392.5h7.38v14.59h-7.38zM1298.5 1392.5h7.38v21.81h-7.38zM1305.72 1392.5h7.38v14.59h-7.38zM1312.93 1392.5h7.38v14.59h-7.38zM1320.15 1385.29h7.38v21.81h-7.38zM1327.36 1392.5h7.38v14.59h-7.38zM1334.58 1392.5h7.38v14.59h-7.38zM1341.8 1392.5h7.38v21.81h-7.38zM1349.01 1392.5h7.38v14.59h-7.38zM1356.23 1392.5h7.38v14.59h-7.38zM1363.44 1392.5h7.38v14.59h-7.38zM1370.66 1392.5h7.38v14.59h-7.38zM1377.88 1385.29h7.38v21.81h-7.38zM1385.09 1392.5h7.38v14.59h-7.38zM1392.31 1385.29h7.38v21.81h-7.38zM1399.52 1385.29h7.38v21.81h-7.38zM1406.74 1385.29h7.38v21.81h-7.38zM1413.96 1392.5h7.38v14.59h-7.38zM1421.17 1385.29h7.38v21.81h-7.38zM1428.39 1385.29h7.38v21.81h-7.38zM1435.6 1392.5h7.38v14.59h-7.38zM1442.82 1392.5h7.38v14.59h-7.38zM1450.04 1385.29h7.38v21.81h-7.38zM1457.25 1392.5h7.38v14.59h-7.38zM1464.47 1392.5h7.38v14.59h-7.38zM1471.68 1392.5h7.38v14.59h-7.38zM1478.9 1392.5h7.38v14.59h-7.38zM1486.12 1392.5h7.38v14.59h-7.38zM1493.33 1385.29h7.38v21.81h-7.38zM1500.55 1392.5h7.38v14.59h-7.38zM1507.76 1392.5h7.38v14.59h-7.38zM1514.98 1392.5h7.38v14.59h-7.38zM1522.2 1392.5h7.38v21.81h-7.38zM1529.41 1385.29h7.38v21.81h-7.38zM1536.63 1385.29h7.38v21.81h-7.38zM1543.84 1385.29h7.38v21.81h-7.38zM1551.06 1385.29h7.38v21.81h-7.38zM1558.28 1392.5h7.38v14.59h-7.38zM1565.49 1392.5h7.38v14.59h-7.38zM1572.71 1385.29h7.38v21.81h-7.38zM1579.92 1385.29h7.38v21.81h-7.38zM1587.14 1392.5h7.38v14.59h-7.38zM1594.36 1392.5h7.38v14.59h-7.38zM1601.57 1392.5h7.38v14.59h-7.38zM1608.79 1392.5h7.38v21.81h-7.38zM1616 1392.5h7.38v14.59h-7.38zM1623.22 1392.5h7.38v14.59h-7.38zM1630.44 1392.5h7.38v14.59h-7.38zM1637.65 1392.5h7.38v14.59h-7.38zM1644.87 1385.29h7.38v21.81h-7.38zM1652.08 1392.5h7.38v14.59h-7.38zM1659.3 1392.5h7.38v14.59h-7.38zM1666.52 1392.5h7.38v14.59h-7.38zM1673.73 1392.5h7.38v14.59h-7.38zM1680.95 1392.5h7.38v14.59h-7.38zM1688.16 1392.5h7.38v14.59h-7.38zM1695.38 1385.29h7.38v21.81h-7.38zM1702.6 1392.5h7.38v14.59h-7.38zM1709.81 1385.29h7.38v21.81h-7.38zM1717.03 1385.29h7.38v21.81h-7.38zM1724.24 1385.29h7.38v21.81h-7.38zM1731.46 1385.29h7.38v21.81h-7.38zM1738.68 1392.5h7.38v14.59h-7.38zM1745.89 1385.29h7.38v21.81h-7.38zM1753.11 1385.29h7.38v21.81h-7.38zM1760.32 1385.29h7.38v21.81h-7.38zM1767.54 1385.29h7.38v21.81h-7.38zM1774.76 1392.5h7.38v14.59h-7.38zM1781.97 1385.29h7.38v21.81h-7.38zM1789.19 1392.5h7.38v14.59h-7.38zM1796.4 1392.5h7.38v14.59h-7.38zM1803.62 1385.29h7.38v21.81h-7.38zM1810.84 1385.29h7.38v21.81h-7.38zM1818.05 1392.5h7.38v14.59h-7.38zM1825.27 1392.5h7.38v14.59h-7.38zM1832.48 1385.29h7.38v21.81h-7.38zM1839.7 1392.5h7.38v14.59h-7.38zM1846.92 1392.5h7.38v21.81h-7.38zM1854.13 1392.5h7.38v14.59h-7.38zM1861.35 1392.5h7.38v14.59h-7.38zM1868.56 1385.29h7.38v21.81h-7.38zM1875.78 1385.29h7.38v21.81h-7.38zM1883 1392.5h7.38v14.59h-7.38zM1890.21 1385.29h7.38v21.81h-7.38zM1897.43 1392.5h7.38v14.59h-7.38zM1904.64 1385.29h7.38v21.81h-7.38zM1911.86 1385.29h7.38v21.81h-7.38zM1919.08 1392.5h7.38v21.81h-7.38zM1926.29 1392.5h7.38v14.59h-7.38zM1933.51 1385.29h7.38v21.81h-7.38zM1940.72 1269.83h7.38v144.48h-7.38zM1947.94 1269.83h7.38v14.59h-7.38zM1955.16 1269.83h7.38v14.59h-7.38zM1962.37 1269.83h7.38v14.59h-7.38zM1969.59 1262.62h7.38v29.02h-7.38zM1976.8 1269.83h7.38v14.59h-7.38zM1984.02 1269.83h7.38v14.59h-7.38zM1991.24 1269.83h7.38v14.59h-7.38zM1998.45 1269.83h7.38v14.59h-7.38zM2005.67 1262.62h7.38v21.81h-7.38zM2012.88 1269.83h7.38v14.59h-7.38zM2020.1 1262.62h7.38v21.81h-7.38zM2027.32 1269.83h7.38v14.59h-7.38zM2034.53 1262.62h7.38v21.81h-7.38zM2041.75 1269.83h7.38v14.59h-7.38zM2048.96 1262.62h7.38v21.81h-7.38zM2056.18 1269.83h7.38v14.59h-7.38zM2063.4 1269.83h7.38v14.59h-7.38zM2070.61 1269.83h7.38v14.59h-7.38zM2077.83 1269.83h7.38v14.59h-7.38zM2085.04 1269.83h7.38v14.59h-7.38zM2092.26 1262.62h7.38v21.81h-7.38zM2099.48 1269.83h7.38v14.59h-7.38zM2106.69 1269.83h7.38v14.59h-7.38zM2113.91 1269.83h7.38v14.59h-7.38zM2121.12 1269.83h7.38v14.59h-7.38zM2128.34 1269.83h7.38v14.59h-7.38zM2135.56 1269.83h7.38v14.59h-7.38zM2142.77 1269.83h7.38v14.59h-7.38zM2149.99 1269.83h7.38v14.59h-7.38zM2157.2 1269.83h7.38v14.59h-7.38zM2164.42 1269.83h7.38v14.59h-7.38zM2171.64 1269.83h7.38v14.59h-7.38zM2178.85 1269.83h7.38v14.59h-7.38zM2186.07 1269.83h7.38v14.59h-7.38zM2193.28 1269.83h7.38v14.59h-7.38zM2200.5 1255.4h7.38v151.7h-7.38zM2207.72 1392.5h7.38v14.59h-7.38zM2214.93 1385.29h7.38v21.81h-7.38zM2222.15 1392.5h7.38v14.59h-7.38zM2229.36 1392.5h7.38v21.81h-7.38zM2236.58 1392.5h7.38v14.59h-7.38zM2243.8 1392.5h7.38v14.59h-7.38zM2251.01 1385.29h7.38v21.81h-7.38zM2258.23 1392.5h7.38v14.59h-7.38zM2265.44 1385.29h7.38v21.81h-7.38zM2272.66 1392.5h7.38v14.59h-7.38zM2279.88 1392.5h7.38v14.59h-7.38zM2287.09 1392.5h7.38v14.59h-7.38zM2294.31 1392.5h7.38v14.59h-7.38zM2301.52 1385.29h7.38v21.81h-7.38zM2308.74 1392.5h7.38v14.59h-7.38zM2315.96 1392.5h7.38v21.81h-7.38zM2323.17 1392.5h7.38v14.59h-7.38zM2330.39 1392.5h7.38v14.59h-7.38zM2337.6 1392.5h7.38v14.59h-7.38z" fill="#04aa0c"/>
<rect x="714.08" y="160" width="7.22" height="1418" fill="#c4fbd2"/>
<path d="M714.08 166h7.22v7.22h-7.22zM714.08 180.43h7.22v7.22h-7.22zM714.08 194.86h7.22v7.22h-7.22zM714.08 209.3h7.22v7.22h-7.22zM714.08 223.73h7.22v7.22h-7.22zM714.08 238.16h7.22v7.22h-7.22zM714.08 252.59h7.22v7.22h-7.22zM714.08 267.02h7.22v7.22h-7.22zM714.08 281.46h7.22v7.22h-7.22zM714.08 295.89h7.22v7.22h-7.22zM714.08 310.32h7.22v7.22h-7.22zM714.08 324.75h7.22v7.22h-7.22zM714.08 339.18h7.22v7.22h-7.22zM714.08 353.62h7.22v7.22h-7.22zM714.08 368.05h7.22v7.22h-7.22zM714.08 382.48h7.22v7.22h-7.22zM714.08 396.91h7.22v7.22h-7.22zM714.08 411.34h7.22v7.22h-7.22zM714.08 425.78h7.22v7.22h-7.22zM714.08 440.21h7.22v7.22h-7.22zM714.08 454.64h7.22v7.22h-7.22zM714.08 469.07h7.22v7.22h-7.22zM714.08 483.5h7.22v7.22h-7.22zM714.08 497.94h7.22v7.22h-7.22zM714.08 512.37h7.22v7.22h-7.22zM714.08 526.8h7.22v7.22h-7.22zM714.08 541.23h7.22v7.22h-7.22zM714.08 555.66h7.22v7.22h-7.22zM714.08 570.1h7.22v7.22h-7.22zM714.08 584.53h7.22v7.22h-7.22zM714.08 598.96h7.22v7.22h-7.22zM714.08 613.39h7.22v7.22h-7.22zM714.08 627.82h7.22v7.22h-7.22zM714.08 642.26h7.22v7.22h-7.22zM714.08 656.69h7.22v7.22h-7.22zM714.08 671.12h7.22v7.22h-7.22zM714.08 685.55h7.22v7.22h-7.22zM714.08 699.98h7.22v7.22h-7.22zM714.08 714.42h7.22v7.22h-7.22zM714.08 728.85h7.22v7.22h-7.22zM714.08 743.28h7.22v7.22h-7.22zM714.08 757.71h7.22v7.22h-7.22zM714.08 772.14h7.22v7.22h-7.22zM714.08 786.58h7.22v7.22h-7.22zM714.08 801.01h7.22v7.22h-7.22zM714.08 815.44h7.22v7.22h-7.22zM714.08 829.87h7.22v7.22h-7.22zM714.08 844.3h7.22v7.22h-7.22zM714.08 858.74h7.22v7.22h-7.22zM714.08 873.17h7.22v7.22h-7.22zM714.08 887.6h7.22v7.22h-7.22zM714.08 902.03h7.22v7.22h-7.22zM714.08 916.46h7.22v7.22h-7.22zM714.08 930.9h7.22v7.22h-7.22zM714.08 945.33h7.22v7.22h-7.22zM714.08 959.76h7.22v7.22h-7.22zM714.08 974.19h7.22v7.22h-7.22zM714.08 988.62h7.22v7.22h-7.22zM714.08 1003.06h7.22v7.22h-7.22zM714.08 1017.49h7.22v7.22h-7.22zM714.08 1031.92h7.22v7.22h-7.22zM714.08 1046.35h7.22v7.22h-7.22zM714.08 1060.78h7.22v7.22h-7.22zM714.08 1075.22h7.22v7.22h-7.22zM714.08 1089.65h7.22v7.22h-7.22zM714.08 1104.08h7.22v7.22h-7.22zM714.08 1118.51h7.22v7.22h-7.22zM714.08 1132.94h7.22v7.22h-7.22zM714.08 1147.38h7.22v7.22h-7.22zM714.08 1161.81h7.22v7.22h-7.22zM714.08 1176.24h7.22v7.22h-7.22zM714.08 1190.67h7.22v7.22h-7.22zM714.08 1205.1h7.22v7.22h-7.22zM714.08 1219.54h7.22v7.22h-7.22zM714.08 1233.97h7.22v7.22h-7.22zM714.08 1248.4h7.22v7.22h-7.22zM714.08 1262.83h7.22v7.22h-7.22zM714.08 1277.26h7.22v7.22h-7.22zM714.08 1291.7h7.22v7.22h-7.22zM714.08 1306.13h7.22v7.22h-7.22zM714.08 1320.56h7.22v7.22h-7.22zM714.08 1334.99h7.22v7.22h-7.22zM714.08 1349.42h7.22v7.22h-7.22zM714.08 1363.86h7.22v7.22h-7.22zM714.08 1378.29h7.22v7.22h-7.22zM714.08 1392.72h7.22v7.22h-7.22zM714.08 1407.15h7.22v7.22h-7.22zM714.08 1421.58h7.22v7.22h-7.22zM714.08 1436.02h7.22v7.22h-7.22zM714.08 1450.45h7.22v7.22h-7.22zM714.08 1464.88h7.22v7.22h-7.22zM714.08 1479.31h7.22v7.22h-7.22zM714.08 1493.74h7.22v7.22h-7.22zM714.08 1508.18h7.22v7.22h-7.22zM714.08 1522.61h7.22v7.22h-7.22zM714.08 1537.04h7.22v7.22h-7.22zM714.08 1551.47h7.22v7.22h-7.22zM714.08 1565.9h7.22v7.22h-7.22z" fill="#009f2c"/>
<rect x="1948.02" y="163.6" width="7.22" height="1414.4" fill="#d9fde2"/>
<path d="M1948.02 169.6h7.22v7.22h-7.22zM1948.02 184.03h7.22v7.22h-7.22zM1948.02 198.46h7.22v7.22h-7.22zM1948.02 212.9h7.22v7.22h-7.22zM1948.02 227.33h7.22v7.22h-7.22zM1948.02 241.76h7.22v7.22h-7.22zM1948.02 256.19h7.22v7.22h-7.22zM1948.02 270.62h7.22v7.22h-7.22zM1948.02 285.06h7.22v7.22h-7.22zM1948.02 299.49h7.22v7.22h-7.22zM1948.02 313.92h7.22v7.22h-7.22zM1948.02 328.35h7.22v7.22h-7.22zM1948.02 342.78h7.22v7.22h-7.22zM1948.02 357.22h7.22v7.22h-7.22zM1948.02 371.65h7.22v7.22h-7.22zM1948.02 386.08h7.22v7.22h-7.22zM1948.02 400.51h7.22v7.22h-7.22zM1948.02 414.94h7.22v7.22h-7.22zM1948.02 429.38h7.22v7.22h-7.22zM1948.02 443.81h7.22v7.22h-7.22zM1948.02 458.24h7.22v7.22h-7.22zM1948.02 472.67h7.22v7.22h-7.22zM1948.02 487.1h7.22v7.22h-7.22zM1948.02 501.54h7.22v7.22h-7.22zM1948.02 515.97h7.22v7.22h-7.22zM1948.02 530.4h7.22v7.22h-7.22zM1948.02 544.83h7.22v7.22h-7.22zM1948.02 559.26h7.22v7.22h-7.22zM1948.02 573.7h7.22v7.22h-7.22zM1948.02 588.13h7.22v7.22h-7.22zM1948.02 602.56h7.22v7.22h-7.22zM1948.02 616.99h7.22v7.22h-7.22zM1948.02 631.42h7.22v7.22h-7.22zM1948.02 645.86h7.22v7.22h-7.22zM1948.02 660.29h7.22v7.22h-7.22zM1948.02 674.72h7.22v7.22h-7.22zM1948.02 689.15h7.22v7.22h-7.22zM1948.02 703.58h7.22v7.22h-7.22zM1948.02 718.02h7.22v7.22h-7.22zM1948.02 732.45h7.22v7.22h-7.22zM1948.02 746.88h7.22v7.22h-7.22zM1948.02 761.31h7.22v7.22h-7.22zM1948.02 775.74h7.22v7.22h-7.22zM1948.02 790.18h7.22v7.22h-7.22zM1948.02 804.61h7.22v7.22h-7.22zM1948.02 819.04h7.22v7.22h-7.22zM1948.02 833.47h7.22v7.22h-7.22zM1948.02 847.9h7.22v7.22h-7.22zM1948.02 862.34h7.22v7.22h-7.22zM1948.02 876.77h7.22v7.22h-7.22zM1948.02 891.2h7.22v7.22h-7.22zM1948.02 905.63h7.22v7.22h-7.22zM1948.02 920.06h7.22v7.22h-7.22zM1948.02 934.5h7.22v7.22h-7.22zM1948.02 948.93h7.22v7.22h-7.22zM1948.02 963.36h7.22v7.22h-7.22zM1948.02 977.79h7.22v7.22h-7.22zM1948.02 992.22h7.22v7.22h-7.22zM1948.02 1006.66h7.22v7.22h-7.22zM1948.02 1021.09h7.22v7.22h-7.22zM1948.02 1035.52h7.22v7.22h-7.22zM1948.02 1049.95h7.22v7.22h-7.22zM1948.02 1064.38h7.22v7.22h-7.22zM1948.02 1078.82h7.22v7.22h-7.22zM1948.02 1093.25h7.22v7.22h-7.22zM1948.02 1107.68h7.22v7.22h-7.22zM1948.02 1122.11h7.22v7.22h-7.22zM1948.02 1136.54h7.22v7.22h-7.22zM1948.02 1150.98h7.22v7.22h-7.22zM1948.02 1165.41h7.22v7.22h-7.22zM1948.02 1179.84h7.22v7.22h-7.22zM1948.02 1194.27h7.22v7.22h-7.22zM1948.02 1208.7h7.22v7.22h-7.22zM1948.02 1223.14h7.22v7.22h-7.22zM1948.02 1237.57h7.22v7.22h-7.22zM1948.02 1252h7.22v7.22h-7.22zM1948.02 1266.43h7.22v7.22h-7.22zM1948.02 1280.86h7.22v7.22h-7.22zM1948.02 1295.3h7.22v7.22h-7.22zM1948.02 1309.73h7.22v7.22h-7.22zM1948.02 1324.16h7.22v7.22h-7.22zM1948.02 1338.59h7.22v7.22h-7.22zM1948.02 1353.02h7.22v7.22h-7.22zM1948.02 1367.46h7.22v7.22h-7.22zM1948.02 1381.89h7.22v7.22h-7.22zM1948.02 1396.32h7.22v7.22h-7.22zM1948.02 1410.75h7.22v7.22h-7.22zM1948.02 1425.18h7.22v7.22h-7.22zM1948.02 1439.62h7.22v7.22h-7.22zM1948.02 1454.05h7.22v7.22h-7.22zM1948.02 1468.48h7.22v7.22h-7.22zM1948.02 1482.91h7.22v7.22h-7.22zM1948.02 1497.34h7.22v7.22h-7.22zM1948.02 1511.78h7.22v7.22h-7.22zM1948.02 1526.21h7.22v7.22h-7.22zM1948.02 1540.64h7.22v7.22h-7.22zM1948.02 1555.07h7.22v7.22h-7.22zM1948.02 1569.5h7.22v7.22h-7.22z" fill="#009f2c"/>
<rect x="713.58" y="398" width="8.22" height="352" fill="url(#gp)" opacity="0.68"/>
<path d="M511.96 425.56h7.38v7.38h-7.38zM519.17 411.13h7.38v36.24h-7.38zM526.39 418.34h7.38v21.81h-7.38zM533.6 425.56h7.38v7.38h-7.38z" fill="#ffa204"/>
<path d="M511.96 649.26h7.38v7.38h-7.38zM519.17 634.82h7.38v36.24h-7.38zM526.39 642.04h7.38v21.81h-7.38zM533.6 649.26h7.38v7.38h-7.38z" fill="#02b6ba"/>
<path d="M511.96 945.11h7.38v7.38h-7.38zM519.17 930.68h7.38v36.24h-7.38zM526.39 937.9h7.38v21.81h-7.38zM533.6 945.11h7.38v7.38h-7.38z" fill="#b3159b"/>
<path d="M511.96 1392.5h7.38v7.38h-7.38zM519.17 1378.07h7.38v36.24h-7.38zM526.39 1385.29h7.38v21.81h-7.38zM533.6 1392.5h7.38v7.38h-7.38z" fill="#04aa0c"/>
<path d="M511.96 858.52h7.38v7.38h-7.38zM519.17 844.09h7.38v36.24h-7.38zM526.39 851.3h7.38v21.81h-7.38zM533.6 858.52h7.38v7.38h-7.38z" fill="#000"/>
<path d="M663.49 165.78h7.38v7.38h-7.38zM670.71 165.78h7.38v14.59h-7.38zM677.92 165.78h7.38v21.81h-7.38zM685.14 144.14h7.38v50.67h-7.38zM692.36 165.78h7.38v21.81h-7.38zM699.57 165.78h7.38v14.59h-7.38zM706.79 165.78h7.38v7.38h-7.38z" fill="#000"/>
<path d="M829.46 122.49h7.38v7.38h-7.38zM836.68 115.27h7.38v7.38h-7.38zM843.89 122.49h7.38v7.38h-7.38zM851.11 115.27h7.38v7.38h-7.38zM858.32 122.49h7.38v7.38h-7.38zM865.54 57.54h7.38v65.1h-7.38zM872.76 64.76h7.38v7.38h-7.38zM879.97 57.54h7.38v7.38h-7.38zM887.19 57.54h7.38v7.38h-7.38zM894.4 64.76h7.38v7.38h-7.38zM901.62 64.76h7.38v57.89h-7.38zM908.84 122.49h7.38v7.38h-7.38zM916.05 115.27h7.38v7.38h-7.38zM923.27 122.49h7.38v7.38h-7.38zM930.48 115.27h7.38v7.38h-7.38zM937.7 122.49h7.38v7.38h-7.38zM944.92 115.27h7.38v7.38h-7.38zM952.13 122.49h7.38v7.38h-7.38z" fill="#000"/>
<text x="473.96" y="454.5" font-family="'Liberation Sans', sans-serif" font-size="70" font-weight="normal" fill="#ffa204" text-anchor="start" textLength="33" lengthAdjust="spacingAndGlyphs" stroke="#ffa204" stroke-width="1.8" stroke-linejoin="miter">1</text>
<text x="473.96" y="678.2" font-family="'Liberation Sans', sans-serif" font-size="70" font-weight="normal" fill="#02b6ba" text-anchor="start" textLength="33" lengthAdjust="spacingAndGlyphs" stroke="#02b6ba" stroke-width="1.8" stroke-linejoin="miter">2</text>
<text x="473.96" y="974.06" font-family="'Liberation Sans', sans-serif" font-size="70" font-weight="normal" fill="#b3159b" text-anchor="start" textLength="33" lengthAdjust="spacingAndGlyphs" stroke="#b3159b" stroke-width="1.8" stroke-linejoin="miter">3</text>
<text x="473.96" y="1414.23" font-family="'Liberation Sans', sans-serif" font-size="70" font-weight="normal" fill="#04aa0c" text-anchor="start" textLength="33" lengthAdjust="spacingAndGlyphs" stroke="#04aa0c" stroke-width="1.8" stroke-linejoin="miter">4</text>
<text x="473.96" y="887.46" font-family="'Liberation Sans', sans-serif" font-size="70" font-weight="normal" fill="#000" text-anchor="start" textLength="33" lengthAdjust="spacingAndGlyphs" stroke="#000" stroke-width="1.8" stroke-linejoin="miter">A</text>
<text x="473.4" y="129.8" font-family="'Liberation Serif', serif" font-size="102.5" font-weight="bold" fill="#000" text-anchor="start" textLength="169.2" lengthAdjust="spacingAndGlyphs">Tek</text>
<rect x="1190.6" y="57.8" width="64.6" height="72" fill="#04aa0c"/>
<path d="M1204.69 71.98h7.38v7.38h-7.38zM1211.91 71.98h7.38v7.38h-7.38zM1219.12 71.98h7.38v43.46h-7.38zM1226.34 71.98h7.38v7.38h-7.38zM1233.56 71.98h7.38v7.38h-7.38z" fill="#c9f7d2"/>
<text x="1282.3" y="115.2" font-family="'Liberation Sans', sans-serif" font-size="80" font-weight="normal" fill="#06a52a" text-anchor="start" textLength="171.8" lengthAdjust="spacingAndGlyphs" stroke="#06a52a" stroke-width="1.8" stroke-linejoin="miter">Trig&#8217;d</text>
<text x="1762" y="115" font-family="'Liberation Sans', sans-serif" font-size="80" font-weight="normal" fill="#000" text-anchor="start" textLength="462.1" lengthAdjust="spacingAndGlyphs" stroke="#000" stroke-width="1.8" stroke-linejoin="miter">M Pos: 2.100ms</text>
<text x="472.3" y="1653" font-family="'Liberation Sans', sans-serif" font-size="80" font-weight="normal" fill="#ffa204" text-anchor="start" textLength="115.8" lengthAdjust="spacingAndGlyphs" stroke="#ffa204" stroke-width="1.8" stroke-linejoin="miter">CH1</text>
<text x="639.2" y="1653" font-family="'Liberation Sans', sans-serif" font-size="80" font-weight="normal" fill="#ffa204" text-anchor="start" textLength="160.6" lengthAdjust="spacingAndGlyphs" stroke="#ffa204" stroke-width="1.8" stroke-linejoin="miter">5.00V</text>
<text x="948.3" y="1653" font-family="'Liberation Sans', sans-serif" font-size="80" font-weight="normal" fill="#02b6ba" text-anchor="start" textLength="122.4" lengthAdjust="spacingAndGlyphs" stroke="#02b6ba" stroke-width="1.8" stroke-linejoin="miter">CH2</text>
<text x="1114.1" y="1653" font-family="'Liberation Sans', sans-serif" font-size="80" font-weight="normal" fill="#02b6ba" text-anchor="start" textLength="173.3" lengthAdjust="spacingAndGlyphs" stroke="#02b6ba" stroke-width="1.8" stroke-linejoin="miter">2.00V</text>
<text x="1431.2" y="1652" font-family="'Liberation Sans', sans-serif" font-size="80" font-weight="normal" fill="#000" text-anchor="start" textLength="60" lengthAdjust="spacingAndGlyphs" stroke="#000" stroke-width="1.8" stroke-linejoin="miter">M</text>
<text x="1511.9" y="1652" font-family="'Liberation Sans', sans-serif" font-size="80" font-weight="normal" fill="#000" text-anchor="start" textLength="107.6" lengthAdjust="spacingAndGlyphs" stroke="#000" stroke-width="1.8" stroke-linejoin="miter">500</text>
<text x="1626.4" y="1652" font-family="'Liberation Sans', sans-serif" font-size="80" font-weight="normal" fill="#000" text-anchor="start" textLength="72.2" lengthAdjust="spacingAndGlyphs" stroke="#000" stroke-width="1.8" stroke-linejoin="miter">&#181;s</text>
<text x="1867.7" y="1652" font-family="'Liberation Sans', sans-serif" font-size="80" font-weight="normal" fill="#02b6ba" text-anchor="start" textLength="123.5" lengthAdjust="spacingAndGlyphs" stroke="#02b6ba" stroke-width="1.8" stroke-linejoin="miter">CH2</text>
<path d="M2016.5 1648h21.6l21.7-50.5h14.4" stroke="#02b6ba" stroke-width="7.2" fill="none"/>
<text x="2100" y="1652" font-family="'Liberation Sans', sans-serif" font-size="80" font-weight="normal" fill="#02b6ba" text-anchor="start" textLength="203.9" lengthAdjust="spacingAndGlyphs" stroke="#02b6ba" stroke-width="1.8" stroke-linejoin="miter">800mV</text>
<path d="M725 216.4L791 196v14.4h106.5v12H791v14.5z" fill="#000"/>
<path d="M1944.8 216.4L1877 196v14.4h-114v12h114v14.5z" fill="#000"/>
<path d="M721.2 1341.5L788.6 1321.3v14.2h1092v-14.2l63.3 20.2-63.3 20.3v-14.3h-1092v14.3z" fill="#000"/>
<text x="902.9" y="236.4" font-family="'Liberation Sans', sans-serif" font-size="80" font-weight="bold" fill="#000" text-anchor="start" textLength="342.5" lengthAdjust="spacingAndGlyphs">msg. start</text>
<text x="1422.7" y="236.4" font-family="'Liberation Sans', sans-serif" font-size="80" font-weight="bold" fill="#000" text-anchor="start" textLength="335.8" lengthAdjust="spacingAndGlyphs">msg. stop</text>
<text x="699.2" y="815" font-family="'Liberation Sans', sans-serif" font-size="80" font-weight="bold" fill="#045b8d" text-anchor="start" textLength="251" lengthAdjust="spacingAndGlyphs">header</text>
<text x="1114.3" y="818.9" font-family="'Liberation Sans', sans-serif" font-size="80" font-weight="bold" fill="#c6b60c" text-anchor="start" textLength="592.9" lengthAdjust="spacingAndGlyphs">data information</text>
<text x="1062.3" y="1478.4" font-family="'Liberation Sans', sans-serif" font-size="79" font-weight="bold" fill="#000" text-anchor="start" textLength="268.1" lengthAdjust="spacingAndGlyphs">Latency</text>
<text x="1365.4" y="1478.4" font-family="'Liberation Sans', sans-serif" font-size="79" font-weight="bold" fill="#000" text-anchor="start" textLength="153" lengthAdjust="spacingAndGlyphs">3.42</text>
<text x="1531.6" y="1478.4" font-family="'Liberation Sans', sans-serif" font-size="79" font-weight="bold" fill="#000" text-anchor="start" textLength="104.6" lengthAdjust="spacingAndGlyphs">ms</text>
<text x="44.9" y="476.1" font-family="'Liberation Sans', sans-serif" font-size="79" font-weight="bold" fill="#000" text-anchor="start" textLength="259.8" lengthAdjust="spacingAndGlyphs">Emitter</text>
<text x="72.1" y="584" font-family="'Liberation Sans', sans-serif" font-size="79" font-weight="bold" fill="#000" text-anchor="start" textLength="203.7" lengthAdjust="spacingAndGlyphs">signal</text>
<text x="26.5" y="1078.3" font-family="'Liberation Sans', sans-serif" font-size="79" font-weight="bold" fill="#000" text-anchor="start" textLength="299.1" lengthAdjust="spacingAndGlyphs">Receiver</text>
<text x="76" y="1186.2" font-family="'Liberation Sans', sans-serif" font-size="79" font-weight="bold" fill="#000" text-anchor="start" textLength="203.7" lengthAdjust="spacingAndGlyphs">signal</text>
<path d="M465 251.7 H444 Q398 251.7 398 297.7 V425 Q398 488 337 500 Q398 512 398 575 V717.5 Q398 763.5 444 763.5 H465" fill="none" stroke="#000" stroke-width="30" stroke-linecap="butt" stroke-linejoin="miter"/>
<path d="M465 866.2 H440.3 Q394.3 866.2 394.3 912.2 V1040 Q394.3 1103 332 1115 Q394.3 1127 394.3 1190 V1332.2 Q394.3 1378.2 440.3 1378.2 H465" fill="none" stroke="#000" stroke-width="30" stroke-linecap="butt" stroke-linejoin="miter"/>
</svg>
</body>
</html>
